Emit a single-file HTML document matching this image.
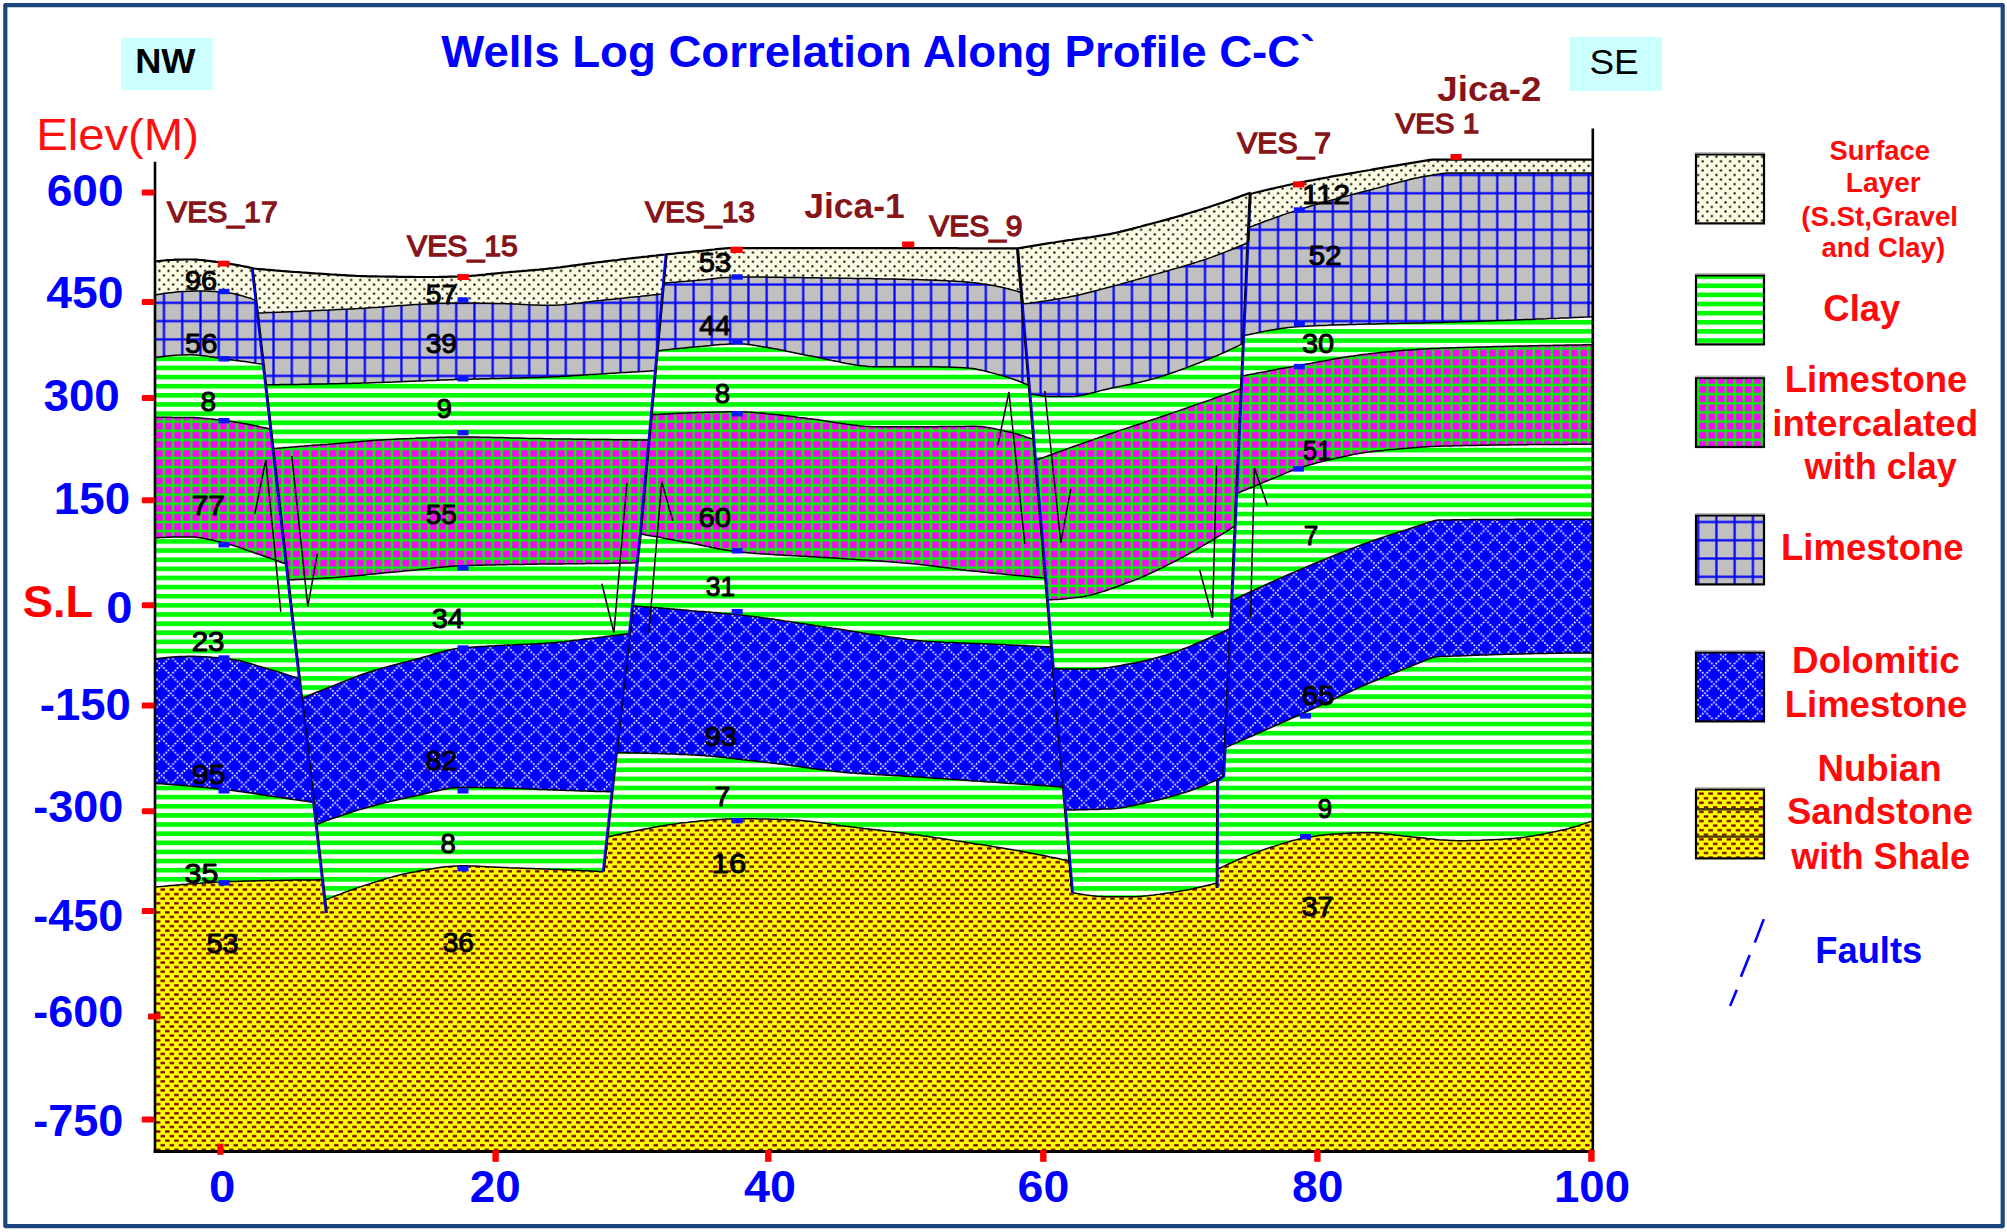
<!DOCTYPE html>
<html lang="en"><head><meta charset="utf-8"><title>Wells Log Correlation Along Profile C-C`</title>
<style>html,body{margin:0;padding:0;background:#fff}svg{display:block}text{font-family:"Liberation Sans",sans-serif}</style></head><body>
<svg width="2007" height="1232" viewBox="0 0 2007 1232">
<defs>
<pattern id="lime" patternUnits="userSpaceOnUse" x="154.838" y="184.118" width="18.264" height="18.264"><rect width="18.264" height="18.264" fill="#c0c0c0"/><rect x="8.032" y="0" width="2.2" height="18.264" fill="#0000ff"/><rect x="0" y="8.032" width="18.264" height="2.2" fill="#0000ff"/></pattern>
<pattern id="clay" patternUnits="userSpaceOnUse" x="0" y="0.336" width="9.132" height="9.132"><rect width="9.132" height="9.132" fill="#ffffff"/><rect width="9.132" height="4.666" fill="#00fa00"/></pattern>
<pattern id="inter" patternUnits="userSpaceOnUse" x="4.160" y="6.044" width="9.132" height="9.132"><rect width="9.132" height="9.132" fill="#ff00ff"/><rect x="3.341" y="0" width="2.45" height="9.132" fill="#00f600"/><rect x="0" y="3.341" width="9.132" height="2.45" fill="#00f600"/></pattern>
<pattern id="surf" patternUnits="userSpaceOnUse" x="6.443" y="8.327" width="9.132" height="9.132"><rect width="9.132" height="9.132" fill="#fbfbe3"/><circle cx="2.283" cy="2.283" r="1.1" fill="#000"/><circle cx="6.849" cy="6.849" r="1.1" fill="#000"/></pattern>
<pattern id="nub" patternUnits="userSpaceOnUse" x="0.633" y="6.021" width="9.132" height="9.132"><rect width="9.132" height="9.132" fill="#ffff00"/><rect x="0.033" y="1.133" width="4.5" height="2.3" fill="#780000"/><rect x="4.599" y="5.699" width="4.5" height="2.3" fill="#780000"/></pattern>
<pattern id="dolo" patternUnits="userSpaceOnUse" x="5.243" y="16.349" width="18.264" height="18.264"><rect width="18.264" height="18.264" fill="#0000ff"/><g fill="#ffffff"><circle cx="1.141" cy="1.141" r="0.98"/><circle cx="3.425" cy="3.425" r="0.98"/><circle cx="3.425" cy="17.122" r="0.98"/><circle cx="5.707" cy="5.707" r="0.98"/><circle cx="5.707" cy="14.839" r="0.98"/><circle cx="7.990" cy="7.990" r="0.98"/><circle cx="7.990" cy="12.556" r="0.98"/><circle cx="10.274" cy="10.274" r="0.98"/><circle cx="12.556" cy="12.556" r="0.98"/><circle cx="12.556" cy="7.990" r="0.98"/><circle cx="14.839" cy="14.839" r="0.98"/><circle cx="14.839" cy="5.707" r="0.98"/><circle cx="17.122" cy="17.122" r="0.98"/><circle cx="17.122" cy="3.425" r="0.98"/></g></pattern>
<clipPath id="clipA"><polygon points="155.0,100.0 155.0,1152.0 326.0,1152.0 326.0,913.0 252.0,269.0 252.0,100.0"/></clipPath>
<clipPath id="clipB"><polygon points="252.0,100.0 252.0,269.0 326.0,913.0 326.0,1152.0 603.0,1152.0 603.0,871.6 640.0,534.0 665.8,254.4 665.8,100.0"/></clipPath>
<clipPath id="clipC"><polygon points="665.8,100.0 665.8,254.4 640.0,534.0 603.0,871.6 603.0,1152.0 1072.8,1152.0 1072.8,892.8 1017.8,248.3 1017.8,100.0"/></clipPath>
<clipPath id="clipD"><polygon points="1017.8,100.0 1017.8,248.3 1072.8,892.8 1072.8,1152.0 1217.5,1152.0 1217.5,888.0 1218.0,781.0 1224.0,776.0 1225.5,747.7 1250.5,193.0 1250.5,100.0"/></clipPath>
<clipPath id="clipE"><polygon points="1250.5,100.0 1250.5,193.0 1225.5,747.7 1224.0,776.0 1218.0,781.0 1217.5,888.0 1217.5,1152.0 1593.0,1152.0 1593.0,100.0"/></clipPath>
<clipPath id="plot"><rect x="155.0" y="100.0" width="1438.0" height="1052.0"/></clipPath>
</defs>
<rect x="0" y="0" width="2007" height="1232" fill="#ffffff"/>
<g clip-path="url(#plot)">
<rect x="150.0" y="100.0" width="1448.0" height="1052.0" fill="url(#nub)"/>
<g clip-path="url(#clipA)">
<rect x="150.0" y="100.0" width="1448.0" height="1052.0" fill="url(#nub)"/>
<path d="M65.0 895.6L155.0 887.0L158.0 886.7L161.0 886.4L164.0 886.2L167.0 885.9L170.0 885.6L173.0 885.4L176.0 885.1L179.0 884.9L182.0 884.6L185.0 884.4L188.0 884.1L191.0 883.9L194.0 883.7L197.0 883.5L200.0 883.3L203.0 883.0L206.0 882.8L209.0 882.6L212.0 882.4L215.0 882.2L218.0 882.1L221.0 881.9L224.0 881.8L227.0 881.7L230.0 881.6L233.0 881.5L236.0 881.4L239.0 881.3L242.0 881.2L245.0 881.1L248.0 881.0L251.0 880.9L254.0 880.8L257.0 880.8L260.0 880.7L263.0 880.6L266.0 880.6L269.0 880.5L272.0 880.5L275.0 880.4L278.0 880.4L281.0 880.3L284.0 880.3L287.0 880.2L290.0 880.2L293.0 880.1L296.0 880.1L299.0 880.0L302.0 880.0L305.0 879.9L308.0 879.9L311.0 879.9L314.0 879.9L317.0 879.8L320.0 879.8L321.7 879.8L411.7 879.3L411.7 95.0L65.0 95.0Z" fill="url(#clay)"/>
<path d="M65.0 778.4L155.0 783.5L158.0 783.7L161.0 783.8L164.0 784.0L167.0 784.2L170.0 784.4L173.0 784.7L176.0 784.9L179.0 785.1L182.0 785.4L185.0 785.6L188.0 785.9L191.0 786.2L194.0 786.4L197.0 786.7L200.0 787.0L203.0 787.3L206.0 787.6L209.0 787.9L212.0 788.2L215.0 788.5L218.0 788.9L221.0 789.2L224.0 789.5L227.0 789.8L230.0 790.2L233.0 790.6L236.0 791.0L239.0 791.4L242.0 791.8L245.0 792.3L248.0 792.7L251.0 793.1L254.0 793.6L257.0 794.1L260.0 794.5L263.0 795.0L266.0 795.4L269.0 795.9L272.0 796.3L275.0 796.7L278.0 797.2L281.0 797.6L284.0 798.0L287.0 798.5L290.0 798.9L293.0 799.4L296.0 799.8L299.0 800.2L302.0 800.7L305.0 801.1L308.0 801.6L311.0 802.0L312.8 802.3L402.8 815.8L402.8 95.0L65.0 95.0Z" fill="url(#dolo)"/>
<path d="M65.0 671.6L155.0 659.0L158.0 658.6L161.0 658.2L164.0 657.8L167.0 657.5L170.0 657.2L173.0 657.0L176.0 656.8L179.0 656.6L182.0 656.5L185.0 656.4L188.0 656.3L191.0 656.3L194.0 656.3L197.0 656.4L200.0 656.5L203.0 656.7L206.0 656.8L209.0 657.0L212.0 657.3L215.0 657.5L218.0 657.8L221.0 658.1L224.0 658.4L227.0 658.7L230.0 659.0L233.0 659.4L236.0 659.9L239.0 660.5L242.0 661.2L245.0 662.0L248.0 662.9L251.0 663.8L254.0 664.7L257.0 665.6L260.0 666.5L263.0 667.4L266.0 668.3L269.0 669.1L272.0 670.0L275.0 670.9L278.0 671.8L281.0 672.7L284.0 673.7L287.0 674.6L290.0 675.6L293.0 676.6L296.0 677.6L298.8 678.5L388.8 708.6L388.8 95.0L65.0 95.0Z" fill="url(#clay)"/>
<path d="M65.0 545.1L155.0 538.0L158.0 537.8L161.0 537.6L164.0 537.4L167.0 537.3L170.0 537.2L173.0 537.1L176.0 537.1L179.0 537.0L182.0 537.0L185.0 537.0L188.0 537.0L191.0 537.0L194.0 537.1L197.0 537.4L200.0 537.8L203.0 538.3L206.0 538.8L209.0 539.5L212.0 540.1L215.0 540.8L218.0 541.6L221.0 542.3L224.0 543.0L227.0 543.7L230.0 544.6L233.0 545.5L236.0 546.4L239.0 547.4L242.0 548.4L245.0 549.5L248.0 550.6L251.0 551.6L254.0 552.7L257.0 553.7L260.0 554.7L263.0 555.7L266.0 556.8L269.0 557.8L272.0 558.9L275.0 560.0L278.0 561.1L281.0 562.2L284.0 563.3L286.0 564.0L376.0 597.3L376.0 95.0L65.0 95.0Z" fill="url(#inter)"/>
<path d="M65.0 417.3L155.0 417.3L158.0 417.3L161.0 417.3L164.0 417.3L167.0 417.3L170.0 417.3L173.0 417.4L176.0 417.4L179.0 417.4L182.0 417.4L185.0 417.4L188.0 417.5L191.0 417.5L194.0 417.6L197.0 417.7L200.0 417.9L203.0 418.2L206.0 418.4L209.0 418.8L212.0 419.1L215.0 419.4L218.0 419.8L221.0 420.1L224.0 420.5L227.0 420.9L230.0 421.3L233.0 421.7L236.0 422.2L239.0 422.6L242.0 423.2L245.0 423.7L248.0 424.3L251.0 424.9L254.0 425.5L257.0 426.1L260.0 426.8L263.0 427.4L266.0 428.1L268.0 428.6L358.0 449.9L358.0 95.0L65.0 95.0Z" fill="url(#clay)"/>
<path d="M65.0 373.9L155.0 357.8L158.0 357.3L161.0 356.8L164.0 356.4L167.0 356.0L170.0 355.7L173.0 355.4L176.0 355.2L179.0 355.1L182.0 354.9L185.0 354.9L188.0 354.8L191.0 354.8L194.0 354.9L197.0 355.1L200.0 355.4L203.0 355.7L206.0 356.1L209.0 356.6L212.0 357.0L215.0 357.5L218.0 357.9L221.0 358.4L224.0 358.8L227.0 359.2L230.0 359.6L233.0 360.0L236.0 360.4L239.0 360.8L242.0 361.2L245.0 361.6L248.0 362.1L251.0 362.5L254.0 362.9L257.0 363.4L260.0 363.8L261.0 364.0L351.0 377.7L351.0 95.0L65.0 95.0Z" fill="url(#lime)"/>
<path d="M65.0 310.8L155.0 295.0L158.0 294.5L161.0 294.0L164.0 293.5L167.0 293.1L170.0 292.7L173.0 292.4L176.0 292.1L179.0 291.8L182.0 291.6L185.0 291.4L188.0 291.3L191.0 291.2L194.0 291.1L197.0 291.0L200.0 291.0L203.0 291.0L206.0 291.1L209.0 291.2L212.0 291.4L215.0 291.6L218.0 291.8L221.0 292.0L224.0 292.3L227.0 292.6L230.0 293.1L233.0 293.6L236.0 294.2L239.0 295.0L242.0 295.8L245.0 296.7L248.0 297.6L251.0 298.6L254.0 299.6L255.0 300.0L345.0 332.0L345.0 95.0L65.0 95.0Z" fill="url(#surf)"/>
<path d="M65.0 895.6L155.0 887.0L158.0 886.7L161.0 886.4L164.0 886.2L167.0 885.9L170.0 885.6L173.0 885.4L176.0 885.1L179.0 884.9L182.0 884.6L185.0 884.4L188.0 884.1L191.0 883.9L194.0 883.7L197.0 883.5L200.0 883.3L203.0 883.0L206.0 882.8L209.0 882.6L212.0 882.4L215.0 882.2L218.0 882.1L221.0 881.9L224.0 881.8L227.0 881.7L230.0 881.6L233.0 881.5L236.0 881.4L239.0 881.3L242.0 881.2L245.0 881.1L248.0 881.0L251.0 880.9L254.0 880.8L257.0 880.8L260.0 880.7L263.0 880.6L266.0 880.6L269.0 880.5L272.0 880.5L275.0 880.4L278.0 880.4L281.0 880.3L284.0 880.3L287.0 880.2L290.0 880.2L293.0 880.1L296.0 880.1L299.0 880.0L302.0 880.0L305.0 879.9L308.0 879.9L311.0 879.9L314.0 879.9L317.0 879.8L320.0 879.8L321.7 879.8L411.7 879.3" fill="none" stroke="#000" stroke-width="1.5" stroke-linejoin="round"/>
<path d="M65.0 778.4L155.0 783.5L158.0 783.7L161.0 783.8L164.0 784.0L167.0 784.2L170.0 784.4L173.0 784.7L176.0 784.9L179.0 785.1L182.0 785.4L185.0 785.6L188.0 785.9L191.0 786.2L194.0 786.4L197.0 786.7L200.0 787.0L203.0 787.3L206.0 787.6L209.0 787.9L212.0 788.2L215.0 788.5L218.0 788.9L221.0 789.2L224.0 789.5L227.0 789.8L230.0 790.2L233.0 790.6L236.0 791.0L239.0 791.4L242.0 791.8L245.0 792.3L248.0 792.7L251.0 793.1L254.0 793.6L257.0 794.1L260.0 794.5L263.0 795.0L266.0 795.4L269.0 795.9L272.0 796.3L275.0 796.7L278.0 797.2L281.0 797.6L284.0 798.0L287.0 798.5L290.0 798.9L293.0 799.4L296.0 799.8L299.0 800.2L302.0 800.7L305.0 801.1L308.0 801.6L311.0 802.0L312.8 802.3L402.8 815.8" fill="none" stroke="#000" stroke-width="1.5" stroke-linejoin="round"/>
<path d="M65.0 671.6L155.0 659.0L158.0 658.6L161.0 658.2L164.0 657.8L167.0 657.5L170.0 657.2L173.0 657.0L176.0 656.8L179.0 656.6L182.0 656.5L185.0 656.4L188.0 656.3L191.0 656.3L194.0 656.3L197.0 656.4L200.0 656.5L203.0 656.7L206.0 656.8L209.0 657.0L212.0 657.3L215.0 657.5L218.0 657.8L221.0 658.1L224.0 658.4L227.0 658.7L230.0 659.0L233.0 659.4L236.0 659.9L239.0 660.5L242.0 661.2L245.0 662.0L248.0 662.9L251.0 663.8L254.0 664.7L257.0 665.6L260.0 666.5L263.0 667.4L266.0 668.3L269.0 669.1L272.0 670.0L275.0 670.9L278.0 671.8L281.0 672.7L284.0 673.7L287.0 674.6L290.0 675.6L293.0 676.6L296.0 677.6L298.8 678.5L388.8 708.6" fill="none" stroke="#000" stroke-width="1.5" stroke-linejoin="round"/>
<path d="M65.0 545.1L155.0 538.0L158.0 537.8L161.0 537.6L164.0 537.4L167.0 537.3L170.0 537.2L173.0 537.1L176.0 537.1L179.0 537.0L182.0 537.0L185.0 537.0L188.0 537.0L191.0 537.0L194.0 537.1L197.0 537.4L200.0 537.8L203.0 538.3L206.0 538.8L209.0 539.5L212.0 540.1L215.0 540.8L218.0 541.6L221.0 542.3L224.0 543.0L227.0 543.7L230.0 544.6L233.0 545.5L236.0 546.4L239.0 547.4L242.0 548.4L245.0 549.5L248.0 550.6L251.0 551.6L254.0 552.7L257.0 553.7L260.0 554.7L263.0 555.7L266.0 556.8L269.0 557.8L272.0 558.9L275.0 560.0L278.0 561.1L281.0 562.2L284.0 563.3L286.0 564.0L376.0 597.3" fill="none" stroke="#000" stroke-width="1.5" stroke-linejoin="round"/>
<path d="M65.0 417.3L155.0 417.3L158.0 417.3L161.0 417.3L164.0 417.3L167.0 417.3L170.0 417.3L173.0 417.4L176.0 417.4L179.0 417.4L182.0 417.4L185.0 417.4L188.0 417.5L191.0 417.5L194.0 417.6L197.0 417.7L200.0 417.9L203.0 418.2L206.0 418.4L209.0 418.8L212.0 419.1L215.0 419.4L218.0 419.8L221.0 420.1L224.0 420.5L227.0 420.9L230.0 421.3L233.0 421.7L236.0 422.2L239.0 422.6L242.0 423.2L245.0 423.7L248.0 424.3L251.0 424.9L254.0 425.5L257.0 426.1L260.0 426.8L263.0 427.4L266.0 428.1L268.0 428.6L358.0 449.9" fill="none" stroke="#000" stroke-width="1.5" stroke-linejoin="round"/>
<path d="M65.0 373.9L155.0 357.8L158.0 357.3L161.0 356.8L164.0 356.4L167.0 356.0L170.0 355.7L173.0 355.4L176.0 355.2L179.0 355.1L182.0 354.9L185.0 354.9L188.0 354.8L191.0 354.8L194.0 354.9L197.0 355.1L200.0 355.4L203.0 355.7L206.0 356.1L209.0 356.6L212.0 357.0L215.0 357.5L218.0 357.9L221.0 358.4L224.0 358.8L227.0 359.2L230.0 359.6L233.0 360.0L236.0 360.4L239.0 360.8L242.0 361.2L245.0 361.6L248.0 362.1L251.0 362.5L254.0 362.9L257.0 363.4L260.0 363.8L261.0 364.0L351.0 377.7" fill="none" stroke="#000" stroke-width="1.5" stroke-linejoin="round"/>
<path d="M65.0 310.8L155.0 295.0L158.0 294.5L161.0 294.0L164.0 293.5L167.0 293.1L170.0 292.7L173.0 292.4L176.0 292.1L179.0 291.8L182.0 291.6L185.0 291.4L188.0 291.3L191.0 291.2L194.0 291.1L197.0 291.0L200.0 291.0L203.0 291.0L206.0 291.1L209.0 291.2L212.0 291.4L215.0 291.6L218.0 291.8L221.0 292.0L224.0 292.3L227.0 292.6L230.0 293.1L233.0 293.6L236.0 294.2L239.0 295.0L242.0 295.8L245.0 296.7L248.0 297.6L251.0 298.6L254.0 299.6L255.0 300.0L345.0 332.0" fill="none" stroke="#000" stroke-width="1.5" stroke-linejoin="round"/>
</g>
<g clip-path="url(#clipB)">
<rect x="150.0" y="100.0" width="1448.0" height="1052.0" fill="url(#nub)"/>
<path d="M235.7 936.4L325.7 899.8L328.7 898.6L331.7 897.4L334.7 896.2L337.7 895.0L340.7 893.9L343.7 892.7L346.7 891.6L349.7 890.5L352.7 889.5L355.7 888.4L358.7 887.4L361.7 886.4L364.7 885.4L367.7 884.4L370.7 883.5L373.7 882.5L376.7 881.6L379.7 880.7L382.7 879.7L385.7 878.8L388.7 877.9L391.7 877.1L394.7 876.2L397.7 875.4L400.7 874.7L403.7 874.0L406.7 873.4L409.7 872.8L412.7 872.2L415.7 871.7L418.7 871.1L421.7 870.5L424.7 870.0L427.7 869.4L430.7 868.9L433.7 868.4L436.7 867.9L439.7 867.5L442.7 867.1L445.7 866.7L448.7 866.4L451.7 866.2L454.7 866.0L457.7 865.9L460.7 865.8L463.7 865.8L466.7 865.8L469.7 865.9L472.7 866.0L475.7 866.1L478.7 866.2L481.7 866.4L484.7 866.5L487.7 866.7L490.7 866.9L493.7 867.0L496.7 867.2L499.7 867.3L502.7 867.5L505.7 867.6L508.7 867.8L511.7 867.9L514.7 868.0L517.7 868.1L520.7 868.2L523.7 868.3L526.7 868.4L529.7 868.5L532.7 868.6L535.7 868.7L538.7 868.8L541.7 868.9L544.7 869.0L547.7 869.1L550.7 869.3L553.7 869.4L556.7 869.5L559.7 869.6L562.7 869.7L565.7 869.9L568.7 870.0L571.7 870.1L574.7 870.3L577.7 870.4L580.7 870.5L583.7 870.7L586.7 870.8L589.7 871.0L592.7 871.1L595.7 871.2L598.7 871.4L601.7 871.5L602.9 871.6L692.9 876.1L692.9 95.0L235.7 95.0Z" fill="url(#clay)"/>
<path d="M226.8 858.3L316.8 824.3L319.8 823.2L322.8 822.0L325.8 820.9L328.8 819.9L331.8 818.8L334.8 817.7L337.8 816.7L340.8 815.7L343.8 814.7L346.8 813.7L349.8 812.7L352.8 811.8L355.8 810.8L358.8 809.9L361.8 809.0L364.8 808.2L367.8 807.3L370.8 806.5L373.8 805.7L376.8 804.9L379.8 804.1L382.8 803.3L385.8 802.6L388.8 801.9L391.8 801.1L394.8 800.4L397.8 799.7L400.8 799.1L403.8 798.4L406.8 797.7L409.8 797.1L412.8 796.5L415.8 795.8L418.8 795.2L421.8 794.5L424.8 793.8L427.8 793.0L430.8 792.3L433.8 791.6L436.8 790.9L439.8 790.2L442.8 789.6L445.8 789.0L448.8 788.5L451.8 788.1L454.8 787.8L457.8 787.6L460.8 787.5L463.8 787.5L466.8 787.5L469.8 787.5L472.8 787.6L475.8 787.6L478.8 787.6L481.8 787.7L484.8 787.7L487.8 787.8L490.8 787.8L493.8 787.9L496.8 787.9L499.8 788.0L502.8 788.1L505.8 788.1L508.8 788.2L511.8 788.3L514.8 788.4L517.8 788.5L520.8 788.6L523.8 788.8L526.8 788.9L529.8 789.0L532.8 789.1L535.8 789.3L538.8 789.4L541.8 789.5L544.8 789.6L547.8 789.7L550.8 789.8L553.8 790.0L556.8 790.1L559.8 790.2L562.8 790.3L565.8 790.4L568.8 790.5L571.8 790.6L574.8 790.7L577.8 790.8L580.8 790.9L583.8 791.0L586.8 791.1L589.8 791.2L592.8 791.3L595.8 791.4L598.8 791.4L601.8 791.5L604.8 791.6L607.8 791.7L609.9 791.8L699.9 794.6L699.9 95.0L226.8 95.0Z" fill="url(#dolo)"/>
<path d="M212.8 734.9L302.8 697.9L305.8 696.7L308.8 695.4L311.8 694.2L314.8 693.0L317.8 691.8L320.8 690.6L323.8 689.4L326.8 688.2L329.8 687.0L332.8 685.9L335.8 684.7L338.8 683.5L341.8 682.3L344.8 681.1L347.8 679.9L350.8 678.8L353.8 677.6L356.8 676.4L359.8 675.3L362.8 674.2L365.8 673.2L368.8 672.2L371.8 671.2L374.8 670.3L377.8 669.4L380.8 668.5L383.8 667.7L386.8 666.9L389.8 666.0L392.8 665.2L395.8 664.5L398.8 663.7L401.8 662.9L404.8 662.1L407.8 661.4L410.8 660.6L413.8 659.8L416.8 659.0L419.8 658.2L422.8 657.3L425.8 656.5L428.8 655.6L431.8 654.7L434.8 653.8L437.8 653.0L440.8 652.1L443.8 651.3L446.8 650.6L449.8 649.9L452.8 649.3L455.8 648.8L458.8 648.3L461.8 648.0L464.8 647.7L467.8 647.4L470.8 647.2L473.8 647.0L476.8 646.8L479.8 646.6L482.8 646.4L485.8 646.3L488.8 646.1L491.8 645.9L494.8 645.8L497.8 645.6L500.8 645.5L503.8 645.3L506.8 645.1L509.8 645.0L512.8 644.9L515.8 644.7L518.8 644.6L521.8 644.5L524.8 644.3L527.8 644.2L530.8 644.1L533.8 643.9L536.8 643.8L539.8 643.6L542.8 643.4L545.8 643.2L548.8 643.0L551.8 642.8L554.8 642.6L557.8 642.3L560.8 642.0L563.8 641.7L566.8 641.3L569.8 641.0L572.8 640.6L575.8 640.2L578.8 639.9L581.8 639.5L584.8 639.1L587.8 638.8L590.8 638.4L593.8 638.0L596.8 637.7L599.8 637.3L602.8 637.0L605.8 636.6L608.8 636.2L611.8 635.8L614.8 635.4L617.8 635.1L620.8 634.7L623.8 634.3L625.9 634.0L715.9 622.1L715.9 95.0L212.8 95.0Z" fill="url(#clay)"/>
<path d="M199.8 583.1L289.8 579.8L292.8 579.7L295.8 579.6L298.8 579.4L301.8 579.3L304.8 579.2L307.8 579.0L310.8 578.9L313.8 578.7L316.8 578.6L319.8 578.4L322.8 578.2L325.8 578.0L328.8 577.9L331.8 577.7L334.8 577.5L337.8 577.2L340.8 577.0L343.8 576.8L346.8 576.5L349.8 576.3L352.8 576.0L355.8 575.7L358.8 575.5L361.8 575.2L364.8 574.9L367.8 574.6L370.8 574.3L373.8 574.0L376.8 573.7L379.8 573.4L382.8 573.1L385.8 572.8L388.8 572.6L391.8 572.3L394.8 572.0L397.8 571.7L400.8 571.4L403.8 571.1L406.8 570.8L409.8 570.5L412.8 570.2L415.8 569.9L418.8 569.5L421.8 569.2L424.8 568.9L427.8 568.5L430.8 568.2L433.8 567.9L436.8 567.6L439.8 567.3L442.8 567.0L445.8 566.8L448.8 566.5L451.8 566.3L454.8 566.1L457.8 566.0L460.8 565.8L463.8 565.7L466.8 565.6L469.8 565.5L472.8 565.4L475.8 565.3L478.8 565.3L481.8 565.2L484.8 565.1L487.8 565.0L490.8 565.0L493.8 564.9L496.8 564.8L499.8 564.8L502.8 564.7L505.8 564.7L508.8 564.6L511.8 564.5L514.8 564.5L517.8 564.4L520.8 564.4L523.8 564.4L526.8 564.3L529.8 564.3L532.8 564.2L535.8 564.2L538.8 564.1L541.8 564.1L544.8 564.1L547.8 564.0L550.8 564.0L553.8 563.9L556.8 563.9L559.8 563.9L562.8 563.9L565.8 563.8L568.8 563.8L571.8 563.8L574.8 563.8L577.8 563.7L580.8 563.7L583.8 563.7L586.8 563.6L589.8 563.6L592.8 563.6L595.8 563.6L598.8 563.5L601.8 563.5L604.8 563.4L607.8 563.4L610.8 563.3L613.8 563.3L616.8 563.2L619.8 563.2L622.8 563.1L625.8 563.0L628.8 563.0L631.8 562.9L634.8 562.8L635.8 562.8L725.8 560.7L725.8 95.0L199.8 95.0Z" fill="url(#inter)"/>
<path d="M184.0 455.9L274.0 448.5L277.0 448.3L280.0 448.0L283.0 447.8L286.0 447.5L289.0 447.3L292.0 447.0L295.0 446.8L298.0 446.5L301.0 446.3L304.0 446.1L307.0 445.8L310.0 445.6L313.0 445.3L316.0 445.1L319.0 444.9L322.0 444.6L325.0 444.4L328.0 444.2L331.0 443.9L334.0 443.7L337.0 443.4L340.0 443.2L343.0 442.9L346.0 442.7L349.0 442.4L352.0 442.2L355.0 441.9L358.0 441.7L361.0 441.4L364.0 441.2L367.0 441.0L370.0 440.7L373.0 440.5L376.0 440.3L379.0 440.1L382.0 439.9L385.0 439.7L388.0 439.6L391.0 439.4L394.0 439.3L397.0 439.1L400.0 439.0L403.0 438.8L406.0 438.7L409.0 438.6L412.0 438.4L415.0 438.3L418.0 438.1L421.0 438.0L424.0 437.9L427.0 437.8L430.0 437.6L433.0 437.5L436.0 437.4L439.0 437.3L442.0 437.3L445.0 437.2L448.0 437.1L451.0 437.1L454.0 437.0L457.0 437.0L460.0 437.0L463.0 437.0L466.0 437.0L469.0 437.0L472.0 437.1L475.0 437.1L478.0 437.1L481.0 437.2L484.0 437.2L487.0 437.3L490.0 437.3L493.0 437.4L496.0 437.5L499.0 437.6L502.0 437.6L505.0 437.7L508.0 437.8L511.0 437.9L514.0 438.0L517.0 438.0L520.0 438.1L523.0 438.2L526.0 438.3L529.0 438.4L532.0 438.4L535.0 438.5L538.0 438.6L541.0 438.6L544.0 438.7L547.0 438.8L550.0 438.8L553.0 438.9L556.0 438.9L559.0 439.0L562.0 439.0L565.0 439.0L568.0 439.1L571.0 439.1L574.0 439.2L577.0 439.2L580.0 439.2L583.0 439.3L586.0 439.3L589.0 439.4L592.0 439.4L595.0 439.4L598.0 439.5L601.0 439.5L604.0 439.5L607.0 439.6L610.0 439.6L613.0 439.7L616.0 439.7L619.0 439.7L622.0 439.7L625.0 439.8L628.0 439.8L631.0 439.8L634.0 439.9L637.0 439.9L640.0 439.9L643.0 440.0L646.0 440.0L647.8 440.0L737.8 440.8L737.8 95.0L184.0 95.0Z" fill="url(#clay)"/>
<path d="M176.0 385.6L266.0 384.8L269.0 384.8L272.0 384.7L275.0 384.7L278.0 384.7L281.0 384.6L284.0 384.6L287.0 384.6L290.0 384.5L293.0 384.5L296.0 384.4L299.0 384.4L302.0 384.3L305.0 384.3L308.0 384.2L311.0 384.2L314.0 384.1L317.0 384.1L320.0 384.0L323.0 384.0L326.0 383.9L329.0 383.8L332.0 383.8L335.0 383.7L338.0 383.7L341.0 383.6L344.0 383.5L347.0 383.5L350.0 383.4L353.0 383.3L356.0 383.3L359.0 383.2L362.0 383.1L365.0 383.0L368.0 382.9L371.0 382.8L374.0 382.7L377.0 382.6L380.0 382.5L383.0 382.4L386.0 382.3L389.0 382.2L392.0 382.1L395.0 381.9L398.0 381.8L401.0 381.7L404.0 381.6L407.0 381.5L410.0 381.3L413.0 381.2L416.0 381.1L419.0 381.0L422.0 380.9L425.0 380.7L428.0 380.6L431.0 380.5L434.0 380.4L437.0 380.3L440.0 380.1L443.0 380.0L446.0 379.9L449.0 379.8L452.0 379.7L455.0 379.6L458.0 379.5L461.0 379.4L464.0 379.3L467.0 379.2L470.0 379.2L473.0 379.1L476.0 379.0L479.0 378.9L482.0 378.8L485.0 378.8L488.0 378.7L491.0 378.6L494.0 378.6L497.0 378.5L500.0 378.4L503.0 378.3L506.0 378.3L509.0 378.2L512.0 378.1L515.0 378.1L518.0 378.0L521.0 377.9L524.0 377.8L527.0 377.7L530.0 377.7L533.0 377.6L536.0 377.5L539.0 377.4L542.0 377.3L545.0 377.2L548.0 377.1L551.0 376.9L554.0 376.8L557.0 376.7L560.0 376.5L563.0 376.3L566.0 376.2L569.0 376.0L572.0 375.8L575.0 375.6L578.0 375.4L581.0 375.2L584.0 375.0L587.0 374.8L590.0 374.6L593.0 374.4L596.0 374.2L599.0 374.1L602.0 373.9L605.0 373.7L608.0 373.5L611.0 373.3L614.0 373.2L617.0 373.0L620.0 372.8L623.0 372.6L626.0 372.5L629.0 372.3L632.0 372.1L635.0 371.9L638.0 371.7L641.0 371.6L644.0 371.4L647.0 371.2L650.0 371.0L653.0 370.8L653.8 370.8L743.8 365.4L743.8 95.0L176.0 95.0Z" fill="url(#lime)"/>
<path d="M169.0 316.5L259.0 313.0L262.0 312.9L265.0 312.8L268.0 312.6L271.0 312.5L274.0 312.4L277.0 312.3L280.0 312.2L283.0 312.0L286.0 311.9L289.0 311.8L292.0 311.7L295.0 311.5L298.0 311.4L301.0 311.3L304.0 311.1L307.0 311.0L310.0 310.9L313.0 310.7L316.0 310.6L319.0 310.5L322.0 310.3L325.0 310.2L328.0 310.1L331.0 309.9L334.0 309.8L337.0 309.6L340.0 309.5L343.0 309.3L346.0 309.2L349.0 309.0L352.0 308.9L355.0 308.7L358.0 308.6L361.0 308.4L364.0 308.2L367.0 308.0L370.0 307.8L373.0 307.6L376.0 307.4L379.0 307.2L382.0 306.9L385.0 306.7L388.0 306.5L391.0 306.3L394.0 306.1L397.0 305.8L400.0 305.6L403.0 305.4L406.0 305.2L409.0 305.0L412.0 304.8L415.0 304.6L418.0 304.4L421.0 304.2L424.0 304.0L427.0 303.9L430.0 303.7L433.0 303.6L436.0 303.5L439.0 303.3L442.0 303.2L445.0 303.2L448.0 303.1L451.0 303.0L454.0 303.0L457.0 303.0L460.0 303.0L463.0 303.0L466.0 303.0L469.0 303.1L472.0 303.1L475.0 303.1L478.0 303.1L481.0 303.2L484.0 303.2L487.0 303.3L490.0 303.3L493.0 303.4L496.0 303.4L499.0 303.5L502.0 303.5L505.0 303.6L508.0 303.7L511.0 303.8L514.0 304.0L517.0 304.1L520.0 304.3L523.0 304.4L526.0 304.6L529.0 304.7L532.0 304.9L535.0 305.0L538.0 305.1L541.0 305.2L544.0 305.2L547.0 305.3L550.0 305.3L553.0 305.3L556.0 305.2L559.0 305.0L562.0 304.8L565.0 304.5L568.0 304.3L571.0 304.0L574.0 303.6L577.0 303.3L580.0 302.9L583.0 302.5L586.0 302.1L589.0 301.8L592.0 301.4L595.0 301.0L598.0 300.7L601.0 300.4L604.0 300.1L607.0 299.8L610.0 299.5L613.0 299.2L616.0 298.9L619.0 298.6L622.0 298.3L625.0 298.0L628.0 297.6L631.0 297.3L634.0 297.0L637.0 296.7L640.0 296.4L643.0 296.0L646.0 295.7L649.0 295.4L652.0 295.1L655.0 294.7L658.0 294.4L661.0 294.1L661.8 294.0L751.8 284.0L751.8 95.0L169.0 95.0Z" fill="url(#surf)"/>
<path d="M235.7 936.4L325.7 899.8L328.7 898.6L331.7 897.4L334.7 896.2L337.7 895.0L340.7 893.9L343.7 892.7L346.7 891.6L349.7 890.5L352.7 889.5L355.7 888.4L358.7 887.4L361.7 886.4L364.7 885.4L367.7 884.4L370.7 883.5L373.7 882.5L376.7 881.6L379.7 880.7L382.7 879.7L385.7 878.8L388.7 877.9L391.7 877.1L394.7 876.2L397.7 875.4L400.7 874.7L403.7 874.0L406.7 873.4L409.7 872.8L412.7 872.2L415.7 871.7L418.7 871.1L421.7 870.5L424.7 870.0L427.7 869.4L430.7 868.9L433.7 868.4L436.7 867.9L439.7 867.5L442.7 867.1L445.7 866.7L448.7 866.4L451.7 866.2L454.7 866.0L457.7 865.9L460.7 865.8L463.7 865.8L466.7 865.8L469.7 865.9L472.7 866.0L475.7 866.1L478.7 866.2L481.7 866.4L484.7 866.5L487.7 866.7L490.7 866.9L493.7 867.0L496.7 867.2L499.7 867.3L502.7 867.5L505.7 867.6L508.7 867.8L511.7 867.9L514.7 868.0L517.7 868.1L520.7 868.2L523.7 868.3L526.7 868.4L529.7 868.5L532.7 868.6L535.7 868.7L538.7 868.8L541.7 868.9L544.7 869.0L547.7 869.1L550.7 869.3L553.7 869.4L556.7 869.5L559.7 869.6L562.7 869.7L565.7 869.9L568.7 870.0L571.7 870.1L574.7 870.3L577.7 870.4L580.7 870.5L583.7 870.7L586.7 870.8L589.7 871.0L592.7 871.1L595.7 871.2L598.7 871.4L601.7 871.5L602.9 871.6L692.9 876.1" fill="none" stroke="#000" stroke-width="1.5" stroke-linejoin="round"/>
<path d="M226.8 858.3L316.8 824.3L319.8 823.2L322.8 822.0L325.8 820.9L328.8 819.9L331.8 818.8L334.8 817.7L337.8 816.7L340.8 815.7L343.8 814.7L346.8 813.7L349.8 812.7L352.8 811.8L355.8 810.8L358.8 809.9L361.8 809.0L364.8 808.2L367.8 807.3L370.8 806.5L373.8 805.7L376.8 804.9L379.8 804.1L382.8 803.3L385.8 802.6L388.8 801.9L391.8 801.1L394.8 800.4L397.8 799.7L400.8 799.1L403.8 798.4L406.8 797.7L409.8 797.1L412.8 796.5L415.8 795.8L418.8 795.2L421.8 794.5L424.8 793.8L427.8 793.0L430.8 792.3L433.8 791.6L436.8 790.9L439.8 790.2L442.8 789.6L445.8 789.0L448.8 788.5L451.8 788.1L454.8 787.8L457.8 787.6L460.8 787.5L463.8 787.5L466.8 787.5L469.8 787.5L472.8 787.6L475.8 787.6L478.8 787.6L481.8 787.7L484.8 787.7L487.8 787.8L490.8 787.8L493.8 787.9L496.8 787.9L499.8 788.0L502.8 788.1L505.8 788.1L508.8 788.2L511.8 788.3L514.8 788.4L517.8 788.5L520.8 788.6L523.8 788.8L526.8 788.9L529.8 789.0L532.8 789.1L535.8 789.3L538.8 789.4L541.8 789.5L544.8 789.6L547.8 789.7L550.8 789.8L553.8 790.0L556.8 790.1L559.8 790.2L562.8 790.3L565.8 790.4L568.8 790.5L571.8 790.6L574.8 790.7L577.8 790.8L580.8 790.9L583.8 791.0L586.8 791.1L589.8 791.2L592.8 791.3L595.8 791.4L598.8 791.4L601.8 791.5L604.8 791.6L607.8 791.7L609.9 791.8L699.9 794.6" fill="none" stroke="#000" stroke-width="1.5" stroke-linejoin="round"/>
<path d="M212.8 734.9L302.8 697.9L305.8 696.7L308.8 695.4L311.8 694.2L314.8 693.0L317.8 691.8L320.8 690.6L323.8 689.4L326.8 688.2L329.8 687.0L332.8 685.9L335.8 684.7L338.8 683.5L341.8 682.3L344.8 681.1L347.8 679.9L350.8 678.8L353.8 677.6L356.8 676.4L359.8 675.3L362.8 674.2L365.8 673.2L368.8 672.2L371.8 671.2L374.8 670.3L377.8 669.4L380.8 668.5L383.8 667.7L386.8 666.9L389.8 666.0L392.8 665.2L395.8 664.5L398.8 663.7L401.8 662.9L404.8 662.1L407.8 661.4L410.8 660.6L413.8 659.8L416.8 659.0L419.8 658.2L422.8 657.3L425.8 656.5L428.8 655.6L431.8 654.7L434.8 653.8L437.8 653.0L440.8 652.1L443.8 651.3L446.8 650.6L449.8 649.9L452.8 649.3L455.8 648.8L458.8 648.3L461.8 648.0L464.8 647.7L467.8 647.4L470.8 647.2L473.8 647.0L476.8 646.8L479.8 646.6L482.8 646.4L485.8 646.3L488.8 646.1L491.8 645.9L494.8 645.8L497.8 645.6L500.8 645.5L503.8 645.3L506.8 645.1L509.8 645.0L512.8 644.9L515.8 644.7L518.8 644.6L521.8 644.5L524.8 644.3L527.8 644.2L530.8 644.1L533.8 643.9L536.8 643.8L539.8 643.6L542.8 643.4L545.8 643.2L548.8 643.0L551.8 642.8L554.8 642.6L557.8 642.3L560.8 642.0L563.8 641.7L566.8 641.3L569.8 641.0L572.8 640.6L575.8 640.2L578.8 639.9L581.8 639.5L584.8 639.1L587.8 638.8L590.8 638.4L593.8 638.0L596.8 637.7L599.8 637.3L602.8 637.0L605.8 636.6L608.8 636.2L611.8 635.8L614.8 635.4L617.8 635.1L620.8 634.7L623.8 634.3L625.9 634.0L715.9 622.1" fill="none" stroke="#000" stroke-width="1.5" stroke-linejoin="round"/>
<path d="M199.8 583.1L289.8 579.8L292.8 579.7L295.8 579.6L298.8 579.4L301.8 579.3L304.8 579.2L307.8 579.0L310.8 578.9L313.8 578.7L316.8 578.6L319.8 578.4L322.8 578.2L325.8 578.0L328.8 577.9L331.8 577.7L334.8 577.5L337.8 577.2L340.8 577.0L343.8 576.8L346.8 576.5L349.8 576.3L352.8 576.0L355.8 575.7L358.8 575.5L361.8 575.2L364.8 574.9L367.8 574.6L370.8 574.3L373.8 574.0L376.8 573.7L379.8 573.4L382.8 573.1L385.8 572.8L388.8 572.6L391.8 572.3L394.8 572.0L397.8 571.7L400.8 571.4L403.8 571.1L406.8 570.8L409.8 570.5L412.8 570.2L415.8 569.9L418.8 569.5L421.8 569.2L424.8 568.9L427.8 568.5L430.8 568.2L433.8 567.9L436.8 567.6L439.8 567.3L442.8 567.0L445.8 566.8L448.8 566.5L451.8 566.3L454.8 566.1L457.8 566.0L460.8 565.8L463.8 565.7L466.8 565.6L469.8 565.5L472.8 565.4L475.8 565.3L478.8 565.3L481.8 565.2L484.8 565.1L487.8 565.0L490.8 565.0L493.8 564.9L496.8 564.8L499.8 564.8L502.8 564.7L505.8 564.7L508.8 564.6L511.8 564.5L514.8 564.5L517.8 564.4L520.8 564.4L523.8 564.4L526.8 564.3L529.8 564.3L532.8 564.2L535.8 564.2L538.8 564.1L541.8 564.1L544.8 564.1L547.8 564.0L550.8 564.0L553.8 563.9L556.8 563.9L559.8 563.9L562.8 563.9L565.8 563.8L568.8 563.8L571.8 563.8L574.8 563.8L577.8 563.7L580.8 563.7L583.8 563.7L586.8 563.6L589.8 563.6L592.8 563.6L595.8 563.6L598.8 563.5L601.8 563.5L604.8 563.4L607.8 563.4L610.8 563.3L613.8 563.3L616.8 563.2L619.8 563.2L622.8 563.1L625.8 563.0L628.8 563.0L631.8 562.9L634.8 562.8L635.8 562.8L725.8 560.7" fill="none" stroke="#000" stroke-width="1.5" stroke-linejoin="round"/>
<path d="M184.0 455.9L274.0 448.5L277.0 448.3L280.0 448.0L283.0 447.8L286.0 447.5L289.0 447.3L292.0 447.0L295.0 446.8L298.0 446.5L301.0 446.3L304.0 446.1L307.0 445.8L310.0 445.6L313.0 445.3L316.0 445.1L319.0 444.9L322.0 444.6L325.0 444.4L328.0 444.2L331.0 443.9L334.0 443.7L337.0 443.4L340.0 443.2L343.0 442.9L346.0 442.7L349.0 442.4L352.0 442.2L355.0 441.9L358.0 441.7L361.0 441.4L364.0 441.2L367.0 441.0L370.0 440.7L373.0 440.5L376.0 440.3L379.0 440.1L382.0 439.9L385.0 439.7L388.0 439.6L391.0 439.4L394.0 439.3L397.0 439.1L400.0 439.0L403.0 438.8L406.0 438.7L409.0 438.6L412.0 438.4L415.0 438.3L418.0 438.1L421.0 438.0L424.0 437.9L427.0 437.8L430.0 437.6L433.0 437.5L436.0 437.4L439.0 437.3L442.0 437.3L445.0 437.2L448.0 437.1L451.0 437.1L454.0 437.0L457.0 437.0L460.0 437.0L463.0 437.0L466.0 437.0L469.0 437.0L472.0 437.1L475.0 437.1L478.0 437.1L481.0 437.2L484.0 437.2L487.0 437.3L490.0 437.3L493.0 437.4L496.0 437.5L499.0 437.6L502.0 437.6L505.0 437.7L508.0 437.8L511.0 437.9L514.0 438.0L517.0 438.0L520.0 438.1L523.0 438.2L526.0 438.3L529.0 438.4L532.0 438.4L535.0 438.5L538.0 438.6L541.0 438.6L544.0 438.7L547.0 438.8L550.0 438.8L553.0 438.9L556.0 438.9L559.0 439.0L562.0 439.0L565.0 439.0L568.0 439.1L571.0 439.1L574.0 439.2L577.0 439.2L580.0 439.2L583.0 439.3L586.0 439.3L589.0 439.4L592.0 439.4L595.0 439.4L598.0 439.5L601.0 439.5L604.0 439.5L607.0 439.6L610.0 439.6L613.0 439.7L616.0 439.7L619.0 439.7L622.0 439.7L625.0 439.8L628.0 439.8L631.0 439.8L634.0 439.9L637.0 439.9L640.0 439.9L643.0 440.0L646.0 440.0L647.8 440.0L737.8 440.8" fill="none" stroke="#000" stroke-width="1.5" stroke-linejoin="round"/>
<path d="M176.0 385.6L266.0 384.8L269.0 384.8L272.0 384.7L275.0 384.7L278.0 384.7L281.0 384.6L284.0 384.6L287.0 384.6L290.0 384.5L293.0 384.5L296.0 384.4L299.0 384.4L302.0 384.3L305.0 384.3L308.0 384.2L311.0 384.2L314.0 384.1L317.0 384.1L320.0 384.0L323.0 384.0L326.0 383.9L329.0 383.8L332.0 383.8L335.0 383.7L338.0 383.7L341.0 383.6L344.0 383.5L347.0 383.5L350.0 383.4L353.0 383.3L356.0 383.3L359.0 383.2L362.0 383.1L365.0 383.0L368.0 382.9L371.0 382.8L374.0 382.7L377.0 382.6L380.0 382.5L383.0 382.4L386.0 382.3L389.0 382.2L392.0 382.1L395.0 381.9L398.0 381.8L401.0 381.7L404.0 381.6L407.0 381.5L410.0 381.3L413.0 381.2L416.0 381.1L419.0 381.0L422.0 380.9L425.0 380.7L428.0 380.6L431.0 380.5L434.0 380.4L437.0 380.3L440.0 380.1L443.0 380.0L446.0 379.9L449.0 379.8L452.0 379.7L455.0 379.6L458.0 379.5L461.0 379.4L464.0 379.3L467.0 379.2L470.0 379.2L473.0 379.1L476.0 379.0L479.0 378.9L482.0 378.8L485.0 378.8L488.0 378.7L491.0 378.6L494.0 378.6L497.0 378.5L500.0 378.4L503.0 378.3L506.0 378.3L509.0 378.2L512.0 378.1L515.0 378.1L518.0 378.0L521.0 377.9L524.0 377.8L527.0 377.7L530.0 377.7L533.0 377.6L536.0 377.5L539.0 377.4L542.0 377.3L545.0 377.2L548.0 377.1L551.0 376.9L554.0 376.8L557.0 376.7L560.0 376.5L563.0 376.3L566.0 376.2L569.0 376.0L572.0 375.8L575.0 375.6L578.0 375.4L581.0 375.2L584.0 375.0L587.0 374.8L590.0 374.6L593.0 374.4L596.0 374.2L599.0 374.1L602.0 373.9L605.0 373.7L608.0 373.5L611.0 373.3L614.0 373.2L617.0 373.0L620.0 372.8L623.0 372.6L626.0 372.5L629.0 372.3L632.0 372.1L635.0 371.9L638.0 371.7L641.0 371.6L644.0 371.4L647.0 371.2L650.0 371.0L653.0 370.8L653.8 370.8L743.8 365.4" fill="none" stroke="#000" stroke-width="1.5" stroke-linejoin="round"/>
<path d="M169.0 316.5L259.0 313.0L262.0 312.9L265.0 312.8L268.0 312.6L271.0 312.5L274.0 312.4L277.0 312.3L280.0 312.2L283.0 312.0L286.0 311.9L289.0 311.8L292.0 311.7L295.0 311.5L298.0 311.4L301.0 311.3L304.0 311.1L307.0 311.0L310.0 310.9L313.0 310.7L316.0 310.6L319.0 310.5L322.0 310.3L325.0 310.2L328.0 310.1L331.0 309.9L334.0 309.8L337.0 309.6L340.0 309.5L343.0 309.3L346.0 309.2L349.0 309.0L352.0 308.9L355.0 308.7L358.0 308.6L361.0 308.4L364.0 308.2L367.0 308.0L370.0 307.8L373.0 307.6L376.0 307.4L379.0 307.2L382.0 306.9L385.0 306.7L388.0 306.5L391.0 306.3L394.0 306.1L397.0 305.8L400.0 305.6L403.0 305.4L406.0 305.2L409.0 305.0L412.0 304.8L415.0 304.6L418.0 304.4L421.0 304.2L424.0 304.0L427.0 303.9L430.0 303.7L433.0 303.6L436.0 303.5L439.0 303.3L442.0 303.2L445.0 303.2L448.0 303.1L451.0 303.0L454.0 303.0L457.0 303.0L460.0 303.0L463.0 303.0L466.0 303.0L469.0 303.1L472.0 303.1L475.0 303.1L478.0 303.1L481.0 303.2L484.0 303.2L487.0 303.3L490.0 303.3L493.0 303.4L496.0 303.4L499.0 303.5L502.0 303.5L505.0 303.6L508.0 303.7L511.0 303.8L514.0 304.0L517.0 304.1L520.0 304.3L523.0 304.4L526.0 304.6L529.0 304.7L532.0 304.9L535.0 305.0L538.0 305.1L541.0 305.2L544.0 305.2L547.0 305.3L550.0 305.3L553.0 305.3L556.0 305.2L559.0 305.0L562.0 304.8L565.0 304.5L568.0 304.3L571.0 304.0L574.0 303.6L577.0 303.3L580.0 302.9L583.0 302.5L586.0 302.1L589.0 301.8L592.0 301.4L595.0 301.0L598.0 300.7L601.0 300.4L604.0 300.1L607.0 299.8L610.0 299.5L613.0 299.2L616.0 298.9L619.0 298.6L622.0 298.3L625.0 298.0L628.0 297.6L631.0 297.3L634.0 297.0L637.0 296.7L640.0 296.4L643.0 296.0L646.0 295.7L649.0 295.4L652.0 295.1L655.0 294.7L658.0 294.4L661.0 294.1L661.8 294.0L751.8 284.0" fill="none" stroke="#000" stroke-width="1.5" stroke-linejoin="round"/>
</g>
<g clip-path="url(#clipC)">
<rect x="150.0" y="100.0" width="1448.0" height="1052.0" fill="url(#nub)"/>
<path d="M518.9 857.7L608.9 836.7L611.9 836.0L614.9 835.3L617.9 834.6L620.9 834.0L623.9 833.3L626.9 832.7L629.9 832.0L632.9 831.4L635.9 830.8L638.9 830.2L641.9 829.6L644.9 829.0L647.9 828.5L650.9 827.9L653.9 827.3L656.9 826.8L659.9 826.3L662.9 825.8L665.9 825.3L668.9 824.8L671.9 824.4L674.9 824.0L677.9 823.5L680.9 823.1L683.9 822.7L686.9 822.4L689.9 822.0L692.9 821.7L695.9 821.4L698.9 821.1L701.9 820.8L704.9 820.6L707.9 820.3L710.9 820.1L713.9 819.8L716.9 819.6L719.9 819.4L722.9 819.2L725.9 819.0L728.9 818.9L731.9 818.8L734.9 818.7L737.9 818.7L740.9 818.7L743.9 818.7L746.9 818.7L749.9 818.8L752.9 818.8L755.9 818.8L758.9 818.9L761.9 819.0L764.9 819.0L767.9 819.1L770.9 819.2L773.9 819.2L776.9 819.3L779.9 819.4L782.9 819.5L785.9 819.6L788.9 819.7L791.9 819.8L794.9 819.9L797.9 820.1L800.9 820.4L803.9 820.7L806.9 821.0L809.9 821.3L812.9 821.7L815.9 822.1L818.9 822.5L821.9 822.9L824.9 823.3L827.9 823.7L830.9 824.2L833.9 824.6L836.9 825.0L839.9 825.5L842.9 825.9L845.9 826.3L848.9 826.6L851.9 827.0L854.9 827.3L857.9 827.7L860.9 828.0L863.9 828.4L866.9 828.7L869.9 829.1L872.9 829.4L875.9 829.8L878.9 830.1L881.9 830.5L884.9 830.9L887.9 831.2L890.9 831.6L893.9 831.9L896.9 832.3L899.9 832.7L902.9 833.1L905.9 833.5L908.9 833.9L911.9 834.3L914.9 834.7L917.9 835.1L920.9 835.5L923.9 835.9L926.9 836.3L929.9 836.8L932.9 837.2L935.9 837.7L938.9 838.1L941.9 838.6L944.9 839.0L947.9 839.5L950.9 839.9L953.9 840.4L956.9 840.9L959.9 841.3L962.9 841.8L965.9 842.3L968.9 842.7L971.9 843.2L974.9 843.7L977.9 844.2L980.9 844.6L983.9 845.1L986.9 845.6L989.9 846.1L992.9 846.6L995.9 847.0L998.9 847.5L1001.9 848.0L1004.9 848.5L1007.9 849.0L1010.9 849.5L1013.9 850.1L1016.9 850.6L1019.9 851.1L1022.9 851.6L1025.9 852.2L1028.9 852.7L1031.9 853.3L1034.9 853.9L1037.9 854.4L1040.9 855.0L1043.9 855.6L1046.9 856.2L1049.9 856.9L1052.9 857.5L1055.9 858.1L1058.9 858.7L1061.9 859.4L1064.9 860.0L1067.9 860.7L1068.8 860.9L1158.8 880.7L1158.8 95.0L518.9 95.0Z" fill="url(#clay)"/>
<path d="M526.9 752.7L616.9 752.8L619.9 752.8L622.9 752.8L625.9 752.8L628.9 752.9L631.9 752.9L634.9 753.0L637.9 753.0L640.9 753.1L643.9 753.2L646.9 753.2L649.9 753.3L652.9 753.4L655.9 753.5L658.9 753.6L661.9 753.7L664.9 753.8L667.9 753.9L670.9 754.0L673.9 754.1L676.9 754.3L679.9 754.4L682.9 754.5L685.9 754.6L688.9 754.8L691.9 754.9L694.9 755.1L697.9 755.2L700.9 755.4L703.9 755.6L706.9 755.9L709.9 756.1L712.9 756.4L715.9 756.7L718.9 757.0L721.9 757.3L724.9 757.6L727.9 757.9L730.9 758.3L733.9 758.6L736.9 758.9L739.9 759.3L742.9 759.7L745.9 760.0L748.9 760.4L751.9 760.7L754.9 761.1L757.9 761.4L760.9 761.8L763.9 762.2L766.9 762.5L769.9 762.8L772.9 763.2L775.9 763.5L778.9 763.9L781.9 764.3L784.9 764.7L787.9 765.1L790.9 765.5L793.9 765.9L796.9 766.3L799.9 766.7L802.9 767.2L805.9 767.6L808.9 768.0L811.9 768.4L814.9 768.8L817.9 769.3L820.9 769.7L823.9 770.0L826.9 770.4L829.9 770.8L832.9 771.1L835.9 771.5L838.9 771.8L841.9 772.1L844.9 772.4L847.9 772.7L850.9 772.9L853.9 773.1L856.9 773.4L859.9 773.6L862.9 773.8L865.9 774.0L868.9 774.1L871.9 774.3L874.9 774.5L877.9 774.7L880.9 774.8L883.9 775.0L886.9 775.2L889.9 775.3L892.9 775.5L895.9 775.7L898.9 775.8L901.9 776.0L904.9 776.2L907.9 776.4L910.9 776.6L913.9 776.8L916.9 777.0L919.9 777.1L922.9 777.3L925.9 777.6L928.9 777.8L931.9 778.0L934.9 778.2L937.9 778.4L940.9 778.6L943.9 778.8L946.9 779.0L949.9 779.2L952.9 779.4L955.9 779.6L958.9 779.8L961.9 780.0L964.9 780.3L967.9 780.5L970.9 780.7L973.9 780.9L976.9 781.1L979.9 781.3L982.9 781.5L985.9 781.7L988.9 781.9L991.9 782.1L994.9 782.3L997.9 782.5L1000.9 782.8L1003.9 783.0L1006.9 783.2L1009.9 783.4L1012.9 783.6L1015.9 783.8L1018.9 784.0L1021.9 784.2L1024.9 784.4L1027.9 784.6L1030.9 784.8L1033.9 785.0L1036.9 785.2L1039.9 785.4L1042.9 785.6L1045.9 785.8L1048.9 786.0L1051.9 786.3L1054.9 786.5L1057.9 786.7L1060.9 786.9L1062.8 787.0L1152.8 793.2L1152.8 95.0L526.9 95.0Z" fill="url(#dolo)"/>
<path d="M541.8 598.5L631.8 605.7L634.8 605.9L637.8 606.2L640.8 606.4L643.8 606.7L646.8 606.9L649.8 607.1L652.8 607.4L655.8 607.6L658.8 607.9L661.8 608.1L664.8 608.4L667.8 608.6L670.8 608.9L673.8 609.1L676.8 609.4L679.8 609.6L682.8 609.9L685.8 610.1L688.8 610.4L691.8 610.7L694.8 610.9L697.8 611.2L700.8 611.4L703.8 611.6L706.8 611.9L709.8 612.1L712.8 612.4L715.8 612.6L718.8 612.9L721.8 613.2L724.8 613.4L727.8 613.7L730.8 614.0L733.8 614.3L736.8 614.6L739.8 614.9L742.8 615.3L745.8 615.6L748.8 616.0L751.8 616.3L754.8 616.7L757.8 617.1L760.8 617.5L763.8 617.9L766.8 618.3L769.8 618.7L772.8 619.1L775.8 619.6L778.8 620.0L781.8 620.4L784.8 620.9L787.8 621.3L790.8 621.8L793.8 622.2L796.8 622.7L799.8 623.2L802.8 623.6L805.8 624.1L808.8 624.5L811.8 625.0L814.8 625.5L817.8 625.9L820.8 626.4L823.8 626.8L826.8 627.3L829.8 627.7L832.8 628.2L835.8 628.6L838.8 629.1L841.8 629.6L844.8 630.1L847.8 630.5L850.8 631.0L853.8 631.5L856.8 632.0L859.8 632.5L862.8 633.0L865.8 633.4L868.8 633.9L871.8 634.3L874.8 634.8L877.8 635.2L880.8 635.6L883.8 636.0L886.8 636.4L889.8 636.9L892.8 637.3L895.8 637.7L898.8 638.1L901.8 638.6L904.8 639.0L907.8 639.4L910.8 639.7L913.8 640.1L916.8 640.4L919.8 640.7L922.8 641.0L925.8 641.2L928.8 641.5L931.8 641.6L934.8 641.8L937.8 642.0L940.8 642.1L943.8 642.3L946.8 642.4L949.8 642.5L952.8 642.6L955.8 642.7L958.8 642.9L961.8 643.0L964.8 643.1L967.8 643.2L970.8 643.3L973.8 643.4L976.8 643.5L979.8 643.6L982.8 643.7L985.8 643.8L988.8 644.0L991.8 644.1L994.8 644.2L997.8 644.4L1000.8 644.5L1003.8 644.6L1006.8 644.8L1009.8 644.9L1012.8 645.1L1015.8 645.2L1018.8 645.3L1021.8 645.5L1024.8 645.6L1027.8 645.8L1030.8 645.9L1033.8 646.1L1036.8 646.2L1039.8 646.4L1042.8 646.5L1045.8 646.7L1048.8 646.8L1049.8 646.9L1139.8 651.6L1139.8 95.0L541.8 95.0Z" fill="url(#clay)"/>
<path d="M549.8 517.4L639.8 533.8L642.8 534.3L645.8 534.9L648.8 535.4L651.8 536.0L654.8 536.5L657.8 537.1L660.8 537.6L663.8 538.2L666.8 538.7L669.8 539.3L672.8 539.8L675.8 540.4L678.8 540.9L681.8 541.5L684.8 542.0L687.8 542.6L690.8 543.1L693.8 543.7L696.8 544.3L699.8 544.9L702.8 545.6L705.8 546.2L708.8 546.8L711.8 547.5L714.8 548.1L717.8 548.7L720.8 549.3L723.8 549.8L726.8 550.3L729.8 550.8L732.8 551.2L735.8 551.6L738.8 551.9L741.8 552.2L744.8 552.5L747.8 552.7L750.8 553.0L753.8 553.2L756.8 553.5L759.8 553.7L762.8 553.9L765.8 554.1L768.8 554.3L771.8 554.5L774.8 554.7L777.8 554.9L780.8 555.0L783.8 555.2L786.8 555.4L789.8 555.5L792.8 555.7L795.8 555.8L798.8 556.0L801.8 556.2L804.8 556.3L807.8 556.5L810.8 556.7L813.8 556.8L816.8 557.0L819.8 557.2L822.8 557.4L825.8 557.5L828.8 557.7L831.8 557.9L834.8 558.1L837.8 558.3L840.8 558.5L843.8 558.7L846.8 558.9L849.8 559.1L852.8 559.3L855.8 559.5L858.8 559.7L861.8 559.9L864.8 560.1L867.8 560.3L870.8 560.5L873.8 560.7L876.8 560.9L879.8 561.1L882.8 561.3L885.8 561.5L888.8 561.8L891.8 562.0L894.8 562.2L897.8 562.5L900.8 562.7L903.8 563.0L906.8 563.2L909.8 563.5L912.8 563.8L915.8 564.1L918.8 564.4L921.8 564.7L924.8 565.1L927.8 565.4L930.8 565.8L933.8 566.2L936.8 566.6L939.8 567.0L942.8 567.3L945.8 567.7L948.8 568.1L951.8 568.5L954.8 568.9L957.8 569.3L960.8 569.7L963.8 570.0L966.8 570.4L969.8 570.7L972.8 571.0L975.8 571.3L978.8 571.6L981.8 572.0L984.8 572.3L987.8 572.6L990.8 572.9L993.8 573.2L996.8 573.5L999.8 573.8L1002.8 574.1L1005.8 574.4L1008.8 574.7L1011.8 575.0L1014.8 575.2L1017.8 575.5L1020.8 575.8L1023.8 576.1L1026.8 576.4L1029.8 576.6L1032.8 576.9L1035.8 577.2L1038.8 577.4L1041.8 577.7L1044.8 577.9L1045.8 578.0L1135.8 585.5L1135.8 95.0L549.8 95.0Z" fill="url(#inter)"/>
<path d="M561.8 420.0L651.8 414.7L654.8 414.5L657.8 414.4L660.8 414.2L663.8 414.0L666.8 413.9L669.8 413.7L672.8 413.6L675.8 413.4L678.8 413.3L681.8 413.2L684.8 413.0L687.8 412.9L690.8 412.8L693.8 412.7L696.8 412.6L699.8 412.5L702.8 412.4L705.8 412.3L708.8 412.2L711.8 412.2L714.8 412.1L717.8 412.0L720.8 411.9L723.8 411.9L726.8 411.8L729.8 411.8L732.8 411.7L735.8 411.7L738.8 411.7L741.8 411.8L744.8 411.9L747.8 412.0L750.8 412.2L753.8 412.5L756.8 412.8L759.8 413.0L762.8 413.3L765.8 413.6L768.8 413.9L771.8 414.2L774.8 414.5L777.8 414.8L780.8 415.1L783.8 415.5L786.8 415.8L789.8 416.2L792.8 416.6L795.8 417.0L798.8 417.4L801.8 417.7L804.8 418.1L807.8 418.5L810.8 418.8L813.8 419.2L816.8 419.6L819.8 420.1L822.8 420.5L825.8 421.0L828.8 421.4L831.8 421.9L834.8 422.4L837.8 422.8L840.8 423.3L843.8 423.7L846.8 424.2L849.8 424.6L852.8 425.0L855.8 425.3L858.8 425.7L861.8 425.9L864.8 426.2L867.8 426.4L870.8 426.6L873.8 426.7L876.8 426.7L879.8 426.7L882.8 426.7L885.8 426.7L888.8 426.7L891.8 426.7L894.8 426.7L897.8 426.7L900.8 426.7L903.8 426.7L906.8 426.7L909.8 426.7L912.8 426.7L915.8 426.7L918.8 426.7L921.8 426.7L924.8 426.7L927.8 426.7L930.8 426.7L933.8 426.7L936.8 426.7L939.8 426.6L942.8 426.6L945.8 426.6L948.8 426.5L951.8 426.5L954.8 426.5L957.8 426.4L960.8 426.4L963.8 426.4L966.8 426.3L969.8 426.3L972.8 426.3L975.8 426.3L978.8 426.4L981.8 426.6L984.8 427.0L987.8 427.4L990.8 428.0L993.8 428.6L996.8 429.2L999.8 429.9L1002.8 430.5L1005.8 431.2L1008.8 431.9L1011.8 432.6L1014.8 433.4L1017.8 434.3L1020.8 435.2L1023.8 436.1L1026.8 437.2L1029.8 438.2L1031.8 438.9L1121.8 470.9L1121.8 95.0L561.8 95.0Z" fill="url(#clay)"/>
<path d="M567.8 361.3L657.8 350.8L660.8 350.4L663.8 350.1L666.8 349.8L669.8 349.4L672.8 349.1L675.8 348.8L678.8 348.5L681.8 348.2L684.8 347.9L687.8 347.6L690.8 347.3L693.8 347.0L696.8 346.8L699.8 346.5L702.8 346.3L705.8 346.0L708.8 345.7L711.8 345.4L714.8 345.1L717.8 344.8L720.8 344.6L723.8 344.4L726.8 344.2L729.8 344.0L732.8 343.9L735.8 343.8L738.8 343.8L741.8 343.9L744.8 344.1L747.8 344.4L750.8 344.8L753.8 345.3L756.8 345.8L759.8 346.3L762.8 346.8L765.8 347.3L768.8 347.8L771.8 348.3L774.8 348.8L777.8 349.3L780.8 349.9L783.8 350.5L786.8 351.2L789.8 351.8L792.8 352.4L795.8 353.1L798.8 353.7L801.8 354.3L804.8 354.9L807.8 355.5L810.8 356.0L813.8 356.6L816.8 357.2L819.8 357.8L822.8 358.4L825.8 359.1L828.8 359.7L831.8 360.4L834.8 361.0L837.8 361.6L840.8 362.3L843.8 362.9L846.8 363.5L849.8 364.0L852.8 364.5L855.8 365.0L858.8 365.4L861.8 365.8L864.8 366.1L867.8 366.4L870.8 366.6L873.8 366.7L876.8 366.8L879.8 366.8L882.8 366.8L885.8 366.8L888.8 366.8L891.8 366.8L894.8 366.8L897.8 366.8L900.8 366.8L903.8 366.8L906.8 366.8L909.8 366.8L912.8 366.8L915.8 366.8L918.8 366.8L921.8 366.8L924.8 366.8L927.8 366.8L930.8 366.8L933.8 366.8L936.8 366.8L939.8 366.9L942.8 367.0L945.8 367.0L948.8 367.1L951.8 367.2L954.8 367.3L957.8 367.4L960.8 367.6L963.8 367.7L966.8 367.9L969.8 368.2L972.8 368.6L975.8 369.1L978.8 369.7L981.8 370.3L984.8 371.0L987.8 371.8L990.8 372.6L993.8 373.4L996.8 374.2L999.8 374.9L1002.8 375.8L1005.8 376.7L1008.8 377.6L1011.8 378.6L1014.8 379.7L1017.8 380.8L1020.8 382.0L1023.8 383.2L1026.8 384.4L1029.8 385.7L1119.8 424.0L1119.8 95.0L567.8 95.0Z" fill="url(#lime)"/>
<path d="M574.8 290.9L664.8 283.0L667.8 282.7L670.8 282.5L673.8 282.2L676.8 282.0L679.8 281.7L682.8 281.4L685.8 281.2L688.8 280.9L691.8 280.7L694.8 280.4L697.8 280.2L700.8 279.9L703.8 279.7L706.8 279.4L709.8 279.1L712.8 278.7L715.8 278.4L718.8 278.1L721.8 277.8L724.8 277.6L727.8 277.4L730.8 277.2L733.8 277.1L736.8 277.0L739.8 277.0L742.8 277.0L745.8 277.0L748.8 277.0L751.8 277.0L754.8 277.1L757.8 277.1L760.8 277.1L763.8 277.1L766.8 277.1L769.8 277.2L772.8 277.2L775.8 277.2L778.8 277.3L781.8 277.3L784.8 277.4L787.8 277.4L790.8 277.4L793.8 277.5L796.8 277.5L799.8 277.6L802.8 277.6L805.8 277.7L808.8 277.7L811.8 277.7L814.8 277.8L817.8 277.8L820.8 277.9L823.8 277.9L826.8 278.0L829.8 278.0L832.8 278.0L835.8 278.1L838.8 278.1L841.8 278.2L844.8 278.2L847.8 278.3L850.8 278.3L853.8 278.4L856.8 278.4L859.8 278.4L862.8 278.5L865.8 278.5L868.8 278.6L871.8 278.6L874.8 278.7L877.8 278.8L880.8 278.8L883.8 278.9L886.8 278.9L889.8 279.0L892.8 279.1L895.8 279.1L898.8 279.2L901.8 279.3L904.8 279.3L907.8 279.4L910.8 279.5L913.8 279.6L916.8 279.6L919.8 279.7L922.8 279.8L925.8 279.9L928.8 280.0L931.8 280.1L934.8 280.2L937.8 280.3L940.8 280.4L943.8 280.6L946.8 280.7L949.8 280.9L952.8 281.1L955.8 281.2L958.8 281.4L961.8 281.6L964.8 281.9L967.8 282.1L970.8 282.4L973.8 282.7L976.8 283.1L979.8 283.5L982.8 283.9L985.8 284.3L988.8 284.8L991.8 285.3L994.8 285.8L997.8 286.4L1000.8 287.1L1003.8 287.8L1006.8 288.5L1009.8 289.3L1012.8 290.1L1015.8 290.9L1018.8 291.8L1108.8 318.0L1108.8 95.0L574.8 95.0Z" fill="url(#surf)"/>
<path d="M518.9 857.7L608.9 836.7L611.9 836.0L614.9 835.3L617.9 834.6L620.9 834.0L623.9 833.3L626.9 832.7L629.9 832.0L632.9 831.4L635.9 830.8L638.9 830.2L641.9 829.6L644.9 829.0L647.9 828.5L650.9 827.9L653.9 827.3L656.9 826.8L659.9 826.3L662.9 825.8L665.9 825.3L668.9 824.8L671.9 824.4L674.9 824.0L677.9 823.5L680.9 823.1L683.9 822.7L686.9 822.4L689.9 822.0L692.9 821.7L695.9 821.4L698.9 821.1L701.9 820.8L704.9 820.6L707.9 820.3L710.9 820.1L713.9 819.8L716.9 819.6L719.9 819.4L722.9 819.2L725.9 819.0L728.9 818.9L731.9 818.8L734.9 818.7L737.9 818.7L740.9 818.7L743.9 818.7L746.9 818.7L749.9 818.8L752.9 818.8L755.9 818.8L758.9 818.9L761.9 819.0L764.9 819.0L767.9 819.1L770.9 819.2L773.9 819.2L776.9 819.3L779.9 819.4L782.9 819.5L785.9 819.6L788.9 819.7L791.9 819.8L794.9 819.9L797.9 820.1L800.9 820.4L803.9 820.7L806.9 821.0L809.9 821.3L812.9 821.7L815.9 822.1L818.9 822.5L821.9 822.9L824.9 823.3L827.9 823.7L830.9 824.2L833.9 824.6L836.9 825.0L839.9 825.5L842.9 825.9L845.9 826.3L848.9 826.6L851.9 827.0L854.9 827.3L857.9 827.7L860.9 828.0L863.9 828.4L866.9 828.7L869.9 829.1L872.9 829.4L875.9 829.8L878.9 830.1L881.9 830.5L884.9 830.9L887.9 831.2L890.9 831.6L893.9 831.9L896.9 832.3L899.9 832.7L902.9 833.1L905.9 833.5L908.9 833.9L911.9 834.3L914.9 834.7L917.9 835.1L920.9 835.5L923.9 835.9L926.9 836.3L929.9 836.8L932.9 837.2L935.9 837.7L938.9 838.1L941.9 838.6L944.9 839.0L947.9 839.5L950.9 839.9L953.9 840.4L956.9 840.9L959.9 841.3L962.9 841.8L965.9 842.3L968.9 842.7L971.9 843.2L974.9 843.7L977.9 844.2L980.9 844.6L983.9 845.1L986.9 845.6L989.9 846.1L992.9 846.6L995.9 847.0L998.9 847.5L1001.9 848.0L1004.9 848.5L1007.9 849.0L1010.9 849.5L1013.9 850.1L1016.9 850.6L1019.9 851.1L1022.9 851.6L1025.9 852.2L1028.9 852.7L1031.9 853.3L1034.9 853.9L1037.9 854.4L1040.9 855.0L1043.9 855.6L1046.9 856.2L1049.9 856.9L1052.9 857.5L1055.9 858.1L1058.9 858.7L1061.9 859.4L1064.9 860.0L1067.9 860.7L1068.8 860.9L1158.8 880.7" fill="none" stroke="#000" stroke-width="1.5" stroke-linejoin="round"/>
<path d="M526.9 752.7L616.9 752.8L619.9 752.8L622.9 752.8L625.9 752.8L628.9 752.9L631.9 752.9L634.9 753.0L637.9 753.0L640.9 753.1L643.9 753.2L646.9 753.2L649.9 753.3L652.9 753.4L655.9 753.5L658.9 753.6L661.9 753.7L664.9 753.8L667.9 753.9L670.9 754.0L673.9 754.1L676.9 754.3L679.9 754.4L682.9 754.5L685.9 754.6L688.9 754.8L691.9 754.9L694.9 755.1L697.9 755.2L700.9 755.4L703.9 755.6L706.9 755.9L709.9 756.1L712.9 756.4L715.9 756.7L718.9 757.0L721.9 757.3L724.9 757.6L727.9 757.9L730.9 758.3L733.9 758.6L736.9 758.9L739.9 759.3L742.9 759.7L745.9 760.0L748.9 760.4L751.9 760.7L754.9 761.1L757.9 761.4L760.9 761.8L763.9 762.2L766.9 762.5L769.9 762.8L772.9 763.2L775.9 763.5L778.9 763.9L781.9 764.3L784.9 764.7L787.9 765.1L790.9 765.5L793.9 765.9L796.9 766.3L799.9 766.7L802.9 767.2L805.9 767.6L808.9 768.0L811.9 768.4L814.9 768.8L817.9 769.3L820.9 769.7L823.9 770.0L826.9 770.4L829.9 770.8L832.9 771.1L835.9 771.5L838.9 771.8L841.9 772.1L844.9 772.4L847.9 772.7L850.9 772.9L853.9 773.1L856.9 773.4L859.9 773.6L862.9 773.8L865.9 774.0L868.9 774.1L871.9 774.3L874.9 774.5L877.9 774.7L880.9 774.8L883.9 775.0L886.9 775.2L889.9 775.3L892.9 775.5L895.9 775.7L898.9 775.8L901.9 776.0L904.9 776.2L907.9 776.4L910.9 776.6L913.9 776.8L916.9 777.0L919.9 777.1L922.9 777.3L925.9 777.6L928.9 777.8L931.9 778.0L934.9 778.2L937.9 778.4L940.9 778.6L943.9 778.8L946.9 779.0L949.9 779.2L952.9 779.4L955.9 779.6L958.9 779.8L961.9 780.0L964.9 780.3L967.9 780.5L970.9 780.7L973.9 780.9L976.9 781.1L979.9 781.3L982.9 781.5L985.9 781.7L988.9 781.9L991.9 782.1L994.9 782.3L997.9 782.5L1000.9 782.8L1003.9 783.0L1006.9 783.2L1009.9 783.4L1012.9 783.6L1015.9 783.8L1018.9 784.0L1021.9 784.2L1024.9 784.4L1027.9 784.6L1030.9 784.8L1033.9 785.0L1036.9 785.2L1039.9 785.4L1042.9 785.6L1045.9 785.8L1048.9 786.0L1051.9 786.3L1054.9 786.5L1057.9 786.7L1060.9 786.9L1062.8 787.0L1152.8 793.2" fill="none" stroke="#000" stroke-width="1.5" stroke-linejoin="round"/>
<path d="M541.8 598.5L631.8 605.7L634.8 605.9L637.8 606.2L640.8 606.4L643.8 606.7L646.8 606.9L649.8 607.1L652.8 607.4L655.8 607.6L658.8 607.9L661.8 608.1L664.8 608.4L667.8 608.6L670.8 608.9L673.8 609.1L676.8 609.4L679.8 609.6L682.8 609.9L685.8 610.1L688.8 610.4L691.8 610.7L694.8 610.9L697.8 611.2L700.8 611.4L703.8 611.6L706.8 611.9L709.8 612.1L712.8 612.4L715.8 612.6L718.8 612.9L721.8 613.2L724.8 613.4L727.8 613.7L730.8 614.0L733.8 614.3L736.8 614.6L739.8 614.9L742.8 615.3L745.8 615.6L748.8 616.0L751.8 616.3L754.8 616.7L757.8 617.1L760.8 617.5L763.8 617.9L766.8 618.3L769.8 618.7L772.8 619.1L775.8 619.6L778.8 620.0L781.8 620.4L784.8 620.9L787.8 621.3L790.8 621.8L793.8 622.2L796.8 622.7L799.8 623.2L802.8 623.6L805.8 624.1L808.8 624.5L811.8 625.0L814.8 625.5L817.8 625.9L820.8 626.4L823.8 626.8L826.8 627.3L829.8 627.7L832.8 628.2L835.8 628.6L838.8 629.1L841.8 629.6L844.8 630.1L847.8 630.5L850.8 631.0L853.8 631.5L856.8 632.0L859.8 632.5L862.8 633.0L865.8 633.4L868.8 633.9L871.8 634.3L874.8 634.8L877.8 635.2L880.8 635.6L883.8 636.0L886.8 636.4L889.8 636.9L892.8 637.3L895.8 637.7L898.8 638.1L901.8 638.6L904.8 639.0L907.8 639.4L910.8 639.7L913.8 640.1L916.8 640.4L919.8 640.7L922.8 641.0L925.8 641.2L928.8 641.5L931.8 641.6L934.8 641.8L937.8 642.0L940.8 642.1L943.8 642.3L946.8 642.4L949.8 642.5L952.8 642.6L955.8 642.7L958.8 642.9L961.8 643.0L964.8 643.1L967.8 643.2L970.8 643.3L973.8 643.4L976.8 643.5L979.8 643.6L982.8 643.7L985.8 643.8L988.8 644.0L991.8 644.1L994.8 644.2L997.8 644.4L1000.8 644.5L1003.8 644.6L1006.8 644.8L1009.8 644.9L1012.8 645.1L1015.8 645.2L1018.8 645.3L1021.8 645.5L1024.8 645.6L1027.8 645.8L1030.8 645.9L1033.8 646.1L1036.8 646.2L1039.8 646.4L1042.8 646.5L1045.8 646.7L1048.8 646.8L1049.8 646.9L1139.8 651.6" fill="none" stroke="#000" stroke-width="1.5" stroke-linejoin="round"/>
<path d="M549.8 517.4L639.8 533.8L642.8 534.3L645.8 534.9L648.8 535.4L651.8 536.0L654.8 536.5L657.8 537.1L660.8 537.6L663.8 538.2L666.8 538.7L669.8 539.3L672.8 539.8L675.8 540.4L678.8 540.9L681.8 541.5L684.8 542.0L687.8 542.6L690.8 543.1L693.8 543.7L696.8 544.3L699.8 544.9L702.8 545.6L705.8 546.2L708.8 546.8L711.8 547.5L714.8 548.1L717.8 548.7L720.8 549.3L723.8 549.8L726.8 550.3L729.8 550.8L732.8 551.2L735.8 551.6L738.8 551.9L741.8 552.2L744.8 552.5L747.8 552.7L750.8 553.0L753.8 553.2L756.8 553.5L759.8 553.7L762.8 553.9L765.8 554.1L768.8 554.3L771.8 554.5L774.8 554.7L777.8 554.9L780.8 555.0L783.8 555.2L786.8 555.4L789.8 555.5L792.8 555.7L795.8 555.8L798.8 556.0L801.8 556.2L804.8 556.3L807.8 556.5L810.8 556.7L813.8 556.8L816.8 557.0L819.8 557.2L822.8 557.4L825.8 557.5L828.8 557.7L831.8 557.9L834.8 558.1L837.8 558.3L840.8 558.5L843.8 558.7L846.8 558.9L849.8 559.1L852.8 559.3L855.8 559.5L858.8 559.7L861.8 559.9L864.8 560.1L867.8 560.3L870.8 560.5L873.8 560.7L876.8 560.9L879.8 561.1L882.8 561.3L885.8 561.5L888.8 561.8L891.8 562.0L894.8 562.2L897.8 562.5L900.8 562.7L903.8 563.0L906.8 563.2L909.8 563.5L912.8 563.8L915.8 564.1L918.8 564.4L921.8 564.7L924.8 565.1L927.8 565.4L930.8 565.8L933.8 566.2L936.8 566.6L939.8 567.0L942.8 567.3L945.8 567.7L948.8 568.1L951.8 568.5L954.8 568.9L957.8 569.3L960.8 569.7L963.8 570.0L966.8 570.4L969.8 570.7L972.8 571.0L975.8 571.3L978.8 571.6L981.8 572.0L984.8 572.3L987.8 572.6L990.8 572.9L993.8 573.2L996.8 573.5L999.8 573.8L1002.8 574.1L1005.8 574.4L1008.8 574.7L1011.8 575.0L1014.8 575.2L1017.8 575.5L1020.8 575.8L1023.8 576.1L1026.8 576.4L1029.8 576.6L1032.8 576.9L1035.8 577.2L1038.8 577.4L1041.8 577.7L1044.8 577.9L1045.8 578.0L1135.8 585.5" fill="none" stroke="#000" stroke-width="1.5" stroke-linejoin="round"/>
<path d="M561.8 420.0L651.8 414.7L654.8 414.5L657.8 414.4L660.8 414.2L663.8 414.0L666.8 413.9L669.8 413.7L672.8 413.6L675.8 413.4L678.8 413.3L681.8 413.2L684.8 413.0L687.8 412.9L690.8 412.8L693.8 412.7L696.8 412.6L699.8 412.5L702.8 412.4L705.8 412.3L708.8 412.2L711.8 412.2L714.8 412.1L717.8 412.0L720.8 411.9L723.8 411.9L726.8 411.8L729.8 411.8L732.8 411.7L735.8 411.7L738.8 411.7L741.8 411.8L744.8 411.9L747.8 412.0L750.8 412.2L753.8 412.5L756.8 412.8L759.8 413.0L762.8 413.3L765.8 413.6L768.8 413.9L771.8 414.2L774.8 414.5L777.8 414.8L780.8 415.1L783.8 415.5L786.8 415.8L789.8 416.2L792.8 416.6L795.8 417.0L798.8 417.4L801.8 417.7L804.8 418.1L807.8 418.5L810.8 418.8L813.8 419.2L816.8 419.6L819.8 420.1L822.8 420.5L825.8 421.0L828.8 421.4L831.8 421.9L834.8 422.4L837.8 422.8L840.8 423.3L843.8 423.7L846.8 424.2L849.8 424.6L852.8 425.0L855.8 425.3L858.8 425.7L861.8 425.9L864.8 426.2L867.8 426.4L870.8 426.6L873.8 426.7L876.8 426.7L879.8 426.7L882.8 426.7L885.8 426.7L888.8 426.7L891.8 426.7L894.8 426.7L897.8 426.7L900.8 426.7L903.8 426.7L906.8 426.7L909.8 426.7L912.8 426.7L915.8 426.7L918.8 426.7L921.8 426.7L924.8 426.7L927.8 426.7L930.8 426.7L933.8 426.7L936.8 426.7L939.8 426.6L942.8 426.6L945.8 426.6L948.8 426.5L951.8 426.5L954.8 426.5L957.8 426.4L960.8 426.4L963.8 426.4L966.8 426.3L969.8 426.3L972.8 426.3L975.8 426.3L978.8 426.4L981.8 426.6L984.8 427.0L987.8 427.4L990.8 428.0L993.8 428.6L996.8 429.2L999.8 429.9L1002.8 430.5L1005.8 431.2L1008.8 431.9L1011.8 432.6L1014.8 433.4L1017.8 434.3L1020.8 435.2L1023.8 436.1L1026.8 437.2L1029.8 438.2L1031.8 438.9L1121.8 470.9" fill="none" stroke="#000" stroke-width="1.5" stroke-linejoin="round"/>
<path d="M567.8 361.3L657.8 350.8L660.8 350.4L663.8 350.1L666.8 349.8L669.8 349.4L672.8 349.1L675.8 348.8L678.8 348.5L681.8 348.2L684.8 347.9L687.8 347.6L690.8 347.3L693.8 347.0L696.8 346.8L699.8 346.5L702.8 346.3L705.8 346.0L708.8 345.7L711.8 345.4L714.8 345.1L717.8 344.8L720.8 344.6L723.8 344.4L726.8 344.2L729.8 344.0L732.8 343.9L735.8 343.8L738.8 343.8L741.8 343.9L744.8 344.1L747.8 344.4L750.8 344.8L753.8 345.3L756.8 345.8L759.8 346.3L762.8 346.8L765.8 347.3L768.8 347.8L771.8 348.3L774.8 348.8L777.8 349.3L780.8 349.9L783.8 350.5L786.8 351.2L789.8 351.8L792.8 352.4L795.8 353.1L798.8 353.7L801.8 354.3L804.8 354.9L807.8 355.5L810.8 356.0L813.8 356.6L816.8 357.2L819.8 357.8L822.8 358.4L825.8 359.1L828.8 359.7L831.8 360.4L834.8 361.0L837.8 361.6L840.8 362.3L843.8 362.9L846.8 363.5L849.8 364.0L852.8 364.5L855.8 365.0L858.8 365.4L861.8 365.8L864.8 366.1L867.8 366.4L870.8 366.6L873.8 366.7L876.8 366.8L879.8 366.8L882.8 366.8L885.8 366.8L888.8 366.8L891.8 366.8L894.8 366.8L897.8 366.8L900.8 366.8L903.8 366.8L906.8 366.8L909.8 366.8L912.8 366.8L915.8 366.8L918.8 366.8L921.8 366.8L924.8 366.8L927.8 366.8L930.8 366.8L933.8 366.8L936.8 366.8L939.8 366.9L942.8 367.0L945.8 367.0L948.8 367.1L951.8 367.2L954.8 367.3L957.8 367.4L960.8 367.6L963.8 367.7L966.8 367.9L969.8 368.2L972.8 368.6L975.8 369.1L978.8 369.7L981.8 370.3L984.8 371.0L987.8 371.8L990.8 372.6L993.8 373.4L996.8 374.2L999.8 374.9L1002.8 375.8L1005.8 376.7L1008.8 377.6L1011.8 378.6L1014.8 379.7L1017.8 380.8L1020.8 382.0L1023.8 383.2L1026.8 384.4L1029.8 385.7L1119.8 424.0" fill="none" stroke="#000" stroke-width="1.5" stroke-linejoin="round"/>
<path d="M574.8 290.9L664.8 283.0L667.8 282.7L670.8 282.5L673.8 282.2L676.8 282.0L679.8 281.7L682.8 281.4L685.8 281.2L688.8 280.9L691.8 280.7L694.8 280.4L697.8 280.2L700.8 279.9L703.8 279.7L706.8 279.4L709.8 279.1L712.8 278.7L715.8 278.4L718.8 278.1L721.8 277.8L724.8 277.6L727.8 277.4L730.8 277.2L733.8 277.1L736.8 277.0L739.8 277.0L742.8 277.0L745.8 277.0L748.8 277.0L751.8 277.0L754.8 277.1L757.8 277.1L760.8 277.1L763.8 277.1L766.8 277.1L769.8 277.2L772.8 277.2L775.8 277.2L778.8 277.3L781.8 277.3L784.8 277.4L787.8 277.4L790.8 277.4L793.8 277.5L796.8 277.5L799.8 277.6L802.8 277.6L805.8 277.7L808.8 277.7L811.8 277.7L814.8 277.8L817.8 277.8L820.8 277.9L823.8 277.9L826.8 278.0L829.8 278.0L832.8 278.0L835.8 278.1L838.8 278.1L841.8 278.2L844.8 278.2L847.8 278.3L850.8 278.3L853.8 278.4L856.8 278.4L859.8 278.4L862.8 278.5L865.8 278.5L868.8 278.6L871.8 278.6L874.8 278.7L877.8 278.8L880.8 278.8L883.8 278.9L886.8 278.9L889.8 279.0L892.8 279.1L895.8 279.1L898.8 279.2L901.8 279.3L904.8 279.3L907.8 279.4L910.8 279.5L913.8 279.6L916.8 279.6L919.8 279.7L922.8 279.8L925.8 279.9L928.8 280.0L931.8 280.1L934.8 280.2L937.8 280.3L940.8 280.4L943.8 280.6L946.8 280.7L949.8 280.9L952.8 281.1L955.8 281.2L958.8 281.4L961.8 281.6L964.8 281.9L967.8 282.1L970.8 282.4L973.8 282.7L976.8 283.1L979.8 283.5L982.8 283.9L985.8 284.3L988.8 284.8L991.8 285.3L994.8 285.8L997.8 286.4L1000.8 287.1L1003.8 287.8L1006.8 288.5L1009.8 289.3L1012.8 290.1L1015.8 290.9L1018.8 291.8L1108.8 318.0" fill="none" stroke="#000" stroke-width="1.5" stroke-linejoin="round"/>
</g>
<g clip-path="url(#clipD)">
<rect x="150.0" y="100.0" width="1448.0" height="1052.0" fill="url(#nub)"/>
<path d="M982.8 877.0L1072.8 892.8L1075.8 893.3L1078.8 893.8L1081.8 894.3L1084.8 894.8L1087.8 895.2L1090.8 895.6L1093.8 895.9L1096.8 896.2L1099.8 896.4L1102.8 896.6L1105.8 896.7L1108.8 896.8L1111.8 896.8L1114.8 896.8L1117.8 896.8L1120.8 896.8L1123.8 896.8L1126.8 896.8L1129.8 896.8L1132.8 896.8L1135.8 896.7L1138.8 896.5L1141.8 896.3L1144.8 896.0L1147.8 895.7L1150.8 895.3L1153.8 895.0L1156.8 894.6L1159.8 894.2L1162.8 893.7L1165.8 893.3L1168.8 892.9L1171.8 892.5L1174.8 892.1L1177.8 891.6L1180.8 891.1L1183.8 890.5L1186.8 890.0L1189.8 889.4L1192.8 888.8L1195.8 888.1L1198.8 887.4L1201.8 886.8L1204.8 886.0L1207.8 885.3L1210.8 884.6L1213.8 883.8L1216.8 883.0L1217.5 882.8L1307.5 858.7L1307.5 95.0L982.8 95.0Z" fill="url(#clay)"/>
<path d="M977.8 810.1L1067.8 809.9L1070.8 809.9L1073.8 809.9L1076.8 809.8L1079.8 809.8L1082.8 809.8L1085.8 809.7L1088.8 809.6L1091.8 809.5L1094.8 809.5L1097.8 809.4L1100.8 809.2L1103.8 809.1L1106.8 809.0L1109.8 808.9L1112.8 808.7L1115.8 808.4L1118.8 808.1L1121.8 807.7L1124.8 807.2L1127.8 806.6L1130.8 806.0L1133.8 805.4L1136.8 804.7L1139.8 804.1L1142.8 803.4L1145.8 802.7L1148.8 802.1L1151.8 801.4L1154.8 800.7L1157.8 800.0L1160.8 799.3L1163.8 798.5L1166.8 797.8L1169.8 796.9L1172.8 796.1L1175.8 795.2L1178.8 794.3L1181.8 793.4L1184.8 792.5L1187.8 791.5L1190.8 790.5L1193.8 789.4L1196.8 788.3L1199.8 787.2L1202.8 786.0L1205.8 784.7L1208.8 783.4L1211.8 782.1L1214.8 780.7L1217.5 779.5L1307.5 738.1L1307.5 95.0L977.8 95.0Z" fill="url(#dolo)"/>
<path d="M964.8 667.4L1054.8 668.8L1057.8 668.8L1060.8 668.9L1063.8 668.9L1066.8 668.9L1069.8 669.0L1072.8 669.0L1075.8 669.0L1078.8 669.0L1081.8 669.0L1084.8 669.0L1087.8 669.0L1090.8 669.0L1093.8 668.9L1096.8 668.7L1099.8 668.5L1102.8 668.2L1105.8 667.8L1108.8 667.4L1111.8 666.9L1114.8 666.4L1117.8 665.9L1120.8 665.4L1123.8 664.8L1126.8 664.3L1129.8 663.8L1132.8 663.2L1135.8 662.7L1138.8 662.1L1141.8 661.4L1144.8 660.7L1147.8 660.0L1150.8 659.2L1153.8 658.4L1156.8 657.6L1159.8 656.8L1162.8 655.9L1165.8 655.1L1168.8 654.1L1171.8 653.2L1174.8 652.2L1177.8 651.1L1180.8 650.0L1183.8 648.8L1186.8 647.6L1189.8 646.4L1192.8 645.1L1195.8 643.8L1198.8 642.5L1201.8 641.2L1204.8 639.9L1207.8 638.6L1210.8 637.3L1213.8 636.0L1216.8 634.7L1219.8 633.4L1222.8 632.0L1225.8 630.6L1228.8 629.2L1229.5 628.9L1319.5 587.0L1319.5 95.0L964.8 95.0Z" fill="url(#clay)"/>
<path d="M957.8 600.7L1047.8 599.7L1050.8 599.7L1053.8 599.6L1056.8 599.4L1059.8 599.2L1062.8 598.9L1065.8 598.7L1068.8 598.3L1071.8 598.0L1074.8 597.6L1077.8 597.3L1080.8 596.9L1083.8 596.4L1086.8 595.8L1089.8 595.2L1092.8 594.5L1095.8 593.7L1098.8 592.8L1101.8 591.9L1104.8 591.0L1107.8 590.0L1110.8 588.9L1113.8 587.8L1116.8 586.8L1119.8 585.7L1122.8 584.5L1125.8 583.4L1128.8 582.3L1131.8 581.2L1134.8 580.1L1137.8 578.9L1140.8 577.6L1143.8 576.3L1146.8 575.0L1149.8 573.6L1152.8 572.2L1155.8 570.8L1158.8 569.3L1161.8 567.9L1164.8 566.4L1167.8 564.9L1170.8 563.4L1173.8 561.9L1176.8 560.3L1179.8 558.7L1182.8 557.1L1185.8 555.5L1188.8 553.8L1191.8 552.1L1194.8 550.4L1197.8 548.7L1200.8 546.9L1203.8 545.2L1206.8 543.4L1209.8 541.6L1212.8 539.8L1215.8 538.0L1218.8 536.2L1221.8 534.3L1224.8 532.4L1227.8 530.5L1230.8 528.6L1233.5 526.8L1323.5 468.4L1323.5 95.0L957.8 95.0Z" fill="url(#inter)"/>
<path d="M946.8 493.1L1036.8 459.9L1039.8 458.8L1042.8 457.7L1045.8 456.6L1048.8 455.5L1051.8 454.4L1054.8 453.3L1057.8 452.2L1060.8 451.1L1063.8 450.1L1066.8 449.0L1069.8 447.9L1072.8 446.8L1075.8 445.8L1078.8 444.7L1081.8 443.6L1084.8 442.6L1087.8 441.5L1090.8 440.5L1093.8 439.4L1096.8 438.4L1099.8 437.3L1102.8 436.3L1105.8 435.2L1108.8 434.2L1111.8 433.2L1114.8 432.2L1117.8 431.1L1120.8 430.1L1123.8 429.1L1126.8 428.1L1129.8 427.1L1132.8 426.1L1135.8 425.2L1138.8 424.2L1141.8 423.2L1144.8 422.2L1147.8 421.2L1150.8 420.2L1153.8 419.2L1156.8 418.2L1159.8 417.2L1162.8 416.2L1165.8 415.2L1168.8 414.2L1171.8 413.1L1174.8 412.1L1177.8 411.1L1180.8 410.0L1183.8 409.0L1186.8 408.0L1189.8 406.9L1192.8 405.9L1195.8 404.8L1198.8 403.8L1201.8 402.7L1204.8 401.7L1207.8 400.6L1210.8 399.6L1213.8 398.5L1216.8 397.4L1219.8 396.4L1222.8 395.3L1225.8 394.2L1228.8 393.2L1231.8 392.1L1234.8 391.0L1237.8 389.9L1239.5 389.3L1329.5 356.8L1329.5 95.0L946.8 95.0Z" fill="url(#clay)"/>
<path d="M940.8 376.6L1030.8 394.0L1033.8 394.6L1036.8 395.1L1039.8 395.6L1042.8 396.0L1045.8 396.3L1048.8 396.5L1051.8 396.5L1054.8 396.5L1057.8 396.5L1060.8 396.5L1063.8 396.5L1066.8 396.5L1069.8 396.5L1072.8 396.4L1075.8 396.2L1078.8 395.8L1081.8 395.3L1084.8 394.7L1087.8 394.0L1090.8 393.3L1093.8 392.5L1096.8 391.7L1099.8 390.9L1102.8 390.1L1105.8 389.4L1108.8 388.7L1111.8 388.1L1114.8 387.5L1117.8 386.8L1120.8 386.2L1123.8 385.6L1126.8 385.0L1129.8 384.4L1132.8 383.8L1135.8 383.1L1138.8 382.4L1141.8 381.7L1144.8 381.0L1147.8 380.3L1150.8 379.5L1153.8 378.6L1156.8 377.8L1159.8 376.9L1162.8 376.0L1165.8 375.0L1168.8 374.0L1171.8 373.0L1174.8 372.0L1177.8 370.9L1180.8 369.8L1183.8 368.7L1186.8 367.6L1189.8 366.4L1192.8 365.3L1195.8 364.1L1198.8 363.0L1201.8 361.8L1204.8 360.6L1207.8 359.4L1210.8 358.2L1213.8 356.9L1216.8 355.7L1219.8 354.4L1222.8 353.0L1225.8 351.7L1228.8 350.3L1231.8 348.9L1234.8 347.5L1237.8 346.1L1240.8 344.6L1242.5 343.8L1332.5 300.1L1332.5 95.0L940.8 95.0Z" fill="url(#lime)"/>
<path d="M932.8 312.9L1022.8 303.8L1025.8 303.5L1028.8 303.2L1031.8 302.8L1034.8 302.4L1037.8 302.1L1040.8 301.6L1043.8 301.2L1046.8 300.8L1049.8 300.3L1052.8 299.8L1055.8 299.3L1058.8 298.8L1061.8 298.3L1064.8 297.7L1067.8 297.2L1070.8 296.6L1073.8 296.0L1076.8 295.4L1079.8 294.7L1082.8 294.0L1085.8 293.3L1088.8 292.5L1091.8 291.7L1094.8 291.0L1097.8 290.2L1100.8 289.4L1103.8 288.6L1106.8 287.8L1109.8 287.0L1112.8 286.2L1115.8 285.4L1118.8 284.6L1121.8 283.8L1124.8 282.9L1127.8 282.1L1130.8 281.3L1133.8 280.4L1136.8 279.6L1139.8 278.7L1142.8 277.9L1145.8 277.0L1148.8 276.1L1151.8 275.3L1154.8 274.4L1157.8 273.6L1160.8 272.7L1163.8 271.9L1166.8 271.0L1169.8 270.1L1172.8 269.3L1175.8 268.4L1178.8 267.6L1181.8 266.7L1184.8 265.8L1187.8 264.9L1190.8 264.0L1193.8 263.0L1196.8 262.1L1199.8 261.1L1202.8 260.2L1205.8 259.2L1208.8 258.1L1211.8 257.1L1214.8 256.0L1217.8 254.9L1220.8 253.8L1223.8 252.6L1226.8 251.4L1229.8 250.2L1232.8 249.0L1235.8 247.8L1238.8 246.5L1241.8 245.2L1244.8 244.0L1247.8 242.6L1249.5 241.9L1339.5 202.4L1339.5 95.0L932.8 95.0Z" fill="url(#surf)"/>
<path d="M982.8 877.0L1072.8 892.8L1075.8 893.3L1078.8 893.8L1081.8 894.3L1084.8 894.8L1087.8 895.2L1090.8 895.6L1093.8 895.9L1096.8 896.2L1099.8 896.4L1102.8 896.6L1105.8 896.7L1108.8 896.8L1111.8 896.8L1114.8 896.8L1117.8 896.8L1120.8 896.8L1123.8 896.8L1126.8 896.8L1129.8 896.8L1132.8 896.8L1135.8 896.7L1138.8 896.5L1141.8 896.3L1144.8 896.0L1147.8 895.7L1150.8 895.3L1153.8 895.0L1156.8 894.6L1159.8 894.2L1162.8 893.7L1165.8 893.3L1168.8 892.9L1171.8 892.5L1174.8 892.1L1177.8 891.6L1180.8 891.1L1183.8 890.5L1186.8 890.0L1189.8 889.4L1192.8 888.8L1195.8 888.1L1198.8 887.4L1201.8 886.8L1204.8 886.0L1207.8 885.3L1210.8 884.6L1213.8 883.8L1216.8 883.0L1217.5 882.8L1307.5 858.7" fill="none" stroke="#000" stroke-width="1.5" stroke-linejoin="round"/>
<path d="M977.8 810.1L1067.8 809.9L1070.8 809.9L1073.8 809.9L1076.8 809.8L1079.8 809.8L1082.8 809.8L1085.8 809.7L1088.8 809.6L1091.8 809.5L1094.8 809.5L1097.8 809.4L1100.8 809.2L1103.8 809.1L1106.8 809.0L1109.8 808.9L1112.8 808.7L1115.8 808.4L1118.8 808.1L1121.8 807.7L1124.8 807.2L1127.8 806.6L1130.8 806.0L1133.8 805.4L1136.8 804.7L1139.8 804.1L1142.8 803.4L1145.8 802.7L1148.8 802.1L1151.8 801.4L1154.8 800.7L1157.8 800.0L1160.8 799.3L1163.8 798.5L1166.8 797.8L1169.8 796.9L1172.8 796.1L1175.8 795.2L1178.8 794.3L1181.8 793.4L1184.8 792.5L1187.8 791.5L1190.8 790.5L1193.8 789.4L1196.8 788.3L1199.8 787.2L1202.8 786.0L1205.8 784.7L1208.8 783.4L1211.8 782.1L1214.8 780.7L1217.5 779.5L1307.5 738.1" fill="none" stroke="#000" stroke-width="1.5" stroke-linejoin="round"/>
<path d="M964.8 667.4L1054.8 668.8L1057.8 668.8L1060.8 668.9L1063.8 668.9L1066.8 668.9L1069.8 669.0L1072.8 669.0L1075.8 669.0L1078.8 669.0L1081.8 669.0L1084.8 669.0L1087.8 669.0L1090.8 669.0L1093.8 668.9L1096.8 668.7L1099.8 668.5L1102.8 668.2L1105.8 667.8L1108.8 667.4L1111.8 666.9L1114.8 666.4L1117.8 665.9L1120.8 665.4L1123.8 664.8L1126.8 664.3L1129.8 663.8L1132.8 663.2L1135.8 662.7L1138.8 662.1L1141.8 661.4L1144.8 660.7L1147.8 660.0L1150.8 659.2L1153.8 658.4L1156.8 657.6L1159.8 656.8L1162.8 655.9L1165.8 655.1L1168.8 654.1L1171.8 653.2L1174.8 652.2L1177.8 651.1L1180.8 650.0L1183.8 648.8L1186.8 647.6L1189.8 646.4L1192.8 645.1L1195.8 643.8L1198.8 642.5L1201.8 641.2L1204.8 639.9L1207.8 638.6L1210.8 637.3L1213.8 636.0L1216.8 634.7L1219.8 633.4L1222.8 632.0L1225.8 630.6L1228.8 629.2L1229.5 628.9L1319.5 587.0" fill="none" stroke="#000" stroke-width="1.5" stroke-linejoin="round"/>
<path d="M957.8 600.7L1047.8 599.7L1050.8 599.7L1053.8 599.6L1056.8 599.4L1059.8 599.2L1062.8 598.9L1065.8 598.7L1068.8 598.3L1071.8 598.0L1074.8 597.6L1077.8 597.3L1080.8 596.9L1083.8 596.4L1086.8 595.8L1089.8 595.2L1092.8 594.5L1095.8 593.7L1098.8 592.8L1101.8 591.9L1104.8 591.0L1107.8 590.0L1110.8 588.9L1113.8 587.8L1116.8 586.8L1119.8 585.7L1122.8 584.5L1125.8 583.4L1128.8 582.3L1131.8 581.2L1134.8 580.1L1137.8 578.9L1140.8 577.6L1143.8 576.3L1146.8 575.0L1149.8 573.6L1152.8 572.2L1155.8 570.8L1158.8 569.3L1161.8 567.9L1164.8 566.4L1167.8 564.9L1170.8 563.4L1173.8 561.9L1176.8 560.3L1179.8 558.7L1182.8 557.1L1185.8 555.5L1188.8 553.8L1191.8 552.1L1194.8 550.4L1197.8 548.7L1200.8 546.9L1203.8 545.2L1206.8 543.4L1209.8 541.6L1212.8 539.8L1215.8 538.0L1218.8 536.2L1221.8 534.3L1224.8 532.4L1227.8 530.5L1230.8 528.6L1233.5 526.8L1323.5 468.4" fill="none" stroke="#000" stroke-width="1.5" stroke-linejoin="round"/>
<path d="M946.8 493.1L1036.8 459.9L1039.8 458.8L1042.8 457.7L1045.8 456.6L1048.8 455.5L1051.8 454.4L1054.8 453.3L1057.8 452.2L1060.8 451.1L1063.8 450.1L1066.8 449.0L1069.8 447.9L1072.8 446.8L1075.8 445.8L1078.8 444.7L1081.8 443.6L1084.8 442.6L1087.8 441.5L1090.8 440.5L1093.8 439.4L1096.8 438.4L1099.8 437.3L1102.8 436.3L1105.8 435.2L1108.8 434.2L1111.8 433.2L1114.8 432.2L1117.8 431.1L1120.8 430.1L1123.8 429.1L1126.8 428.1L1129.8 427.1L1132.8 426.1L1135.8 425.2L1138.8 424.2L1141.8 423.2L1144.8 422.2L1147.8 421.2L1150.8 420.2L1153.8 419.2L1156.8 418.2L1159.8 417.2L1162.8 416.2L1165.8 415.2L1168.8 414.2L1171.8 413.1L1174.8 412.1L1177.8 411.1L1180.8 410.0L1183.8 409.0L1186.8 408.0L1189.8 406.9L1192.8 405.9L1195.8 404.8L1198.8 403.8L1201.8 402.7L1204.8 401.7L1207.8 400.6L1210.8 399.6L1213.8 398.5L1216.8 397.4L1219.8 396.4L1222.8 395.3L1225.8 394.2L1228.8 393.2L1231.8 392.1L1234.8 391.0L1237.8 389.9L1239.5 389.3L1329.5 356.8" fill="none" stroke="#000" stroke-width="1.5" stroke-linejoin="round"/>
<path d="M940.8 376.6L1030.8 394.0L1033.8 394.6L1036.8 395.1L1039.8 395.6L1042.8 396.0L1045.8 396.3L1048.8 396.5L1051.8 396.5L1054.8 396.5L1057.8 396.5L1060.8 396.5L1063.8 396.5L1066.8 396.5L1069.8 396.5L1072.8 396.4L1075.8 396.2L1078.8 395.8L1081.8 395.3L1084.8 394.7L1087.8 394.0L1090.8 393.3L1093.8 392.5L1096.8 391.7L1099.8 390.9L1102.8 390.1L1105.8 389.4L1108.8 388.7L1111.8 388.1L1114.8 387.5L1117.8 386.8L1120.8 386.2L1123.8 385.6L1126.8 385.0L1129.8 384.4L1132.8 383.8L1135.8 383.1L1138.8 382.4L1141.8 381.7L1144.8 381.0L1147.8 380.3L1150.8 379.5L1153.8 378.6L1156.8 377.8L1159.8 376.9L1162.8 376.0L1165.8 375.0L1168.8 374.0L1171.8 373.0L1174.8 372.0L1177.8 370.9L1180.8 369.8L1183.8 368.7L1186.8 367.6L1189.8 366.4L1192.8 365.3L1195.8 364.1L1198.8 363.0L1201.8 361.8L1204.8 360.6L1207.8 359.4L1210.8 358.2L1213.8 356.9L1216.8 355.7L1219.8 354.4L1222.8 353.0L1225.8 351.7L1228.8 350.3L1231.8 348.9L1234.8 347.5L1237.8 346.1L1240.8 344.6L1242.5 343.8L1332.5 300.1" fill="none" stroke="#000" stroke-width="1.5" stroke-linejoin="round"/>
<path d="M932.8 312.9L1022.8 303.8L1025.8 303.5L1028.8 303.2L1031.8 302.8L1034.8 302.4L1037.8 302.1L1040.8 301.6L1043.8 301.2L1046.8 300.8L1049.8 300.3L1052.8 299.8L1055.8 299.3L1058.8 298.8L1061.8 298.3L1064.8 297.7L1067.8 297.2L1070.8 296.6L1073.8 296.0L1076.8 295.4L1079.8 294.7L1082.8 294.0L1085.8 293.3L1088.8 292.5L1091.8 291.7L1094.8 291.0L1097.8 290.2L1100.8 289.4L1103.8 288.6L1106.8 287.8L1109.8 287.0L1112.8 286.2L1115.8 285.4L1118.8 284.6L1121.8 283.8L1124.8 282.9L1127.8 282.1L1130.8 281.3L1133.8 280.4L1136.8 279.6L1139.8 278.7L1142.8 277.9L1145.8 277.0L1148.8 276.1L1151.8 275.3L1154.8 274.4L1157.8 273.6L1160.8 272.7L1163.8 271.9L1166.8 271.0L1169.8 270.1L1172.8 269.3L1175.8 268.4L1178.8 267.6L1181.8 266.7L1184.8 265.8L1187.8 264.9L1190.8 264.0L1193.8 263.0L1196.8 262.1L1199.8 261.1L1202.8 260.2L1205.8 259.2L1208.8 258.1L1211.8 257.1L1214.8 256.0L1217.8 254.9L1220.8 253.8L1223.8 252.6L1226.8 251.4L1229.8 250.2L1232.8 249.0L1235.8 247.8L1238.8 246.5L1241.8 245.2L1244.8 244.0L1247.8 242.6L1249.5 241.9L1339.5 202.4" fill="none" stroke="#000" stroke-width="1.5" stroke-linejoin="round"/>
</g>
<g clip-path="url(#clipE)">
<rect x="150.0" y="100.0" width="1448.0" height="1052.0" fill="url(#nub)"/>
<path d="M1130.0 911.0L1220.0 868.0L1223.0 866.6L1226.0 865.2L1229.0 863.8L1232.0 862.4L1235.0 861.1L1238.0 859.8L1241.0 858.5L1244.0 857.3L1247.0 856.1L1250.0 854.9L1253.0 853.7L1256.0 852.6L1259.0 851.5L1262.0 850.4L1265.0 849.3L1268.0 848.3L1271.0 847.3L1274.0 846.4L1277.0 845.4L1280.0 844.4L1283.0 843.5L1286.0 842.6L1289.0 841.7L1292.0 840.8L1295.0 840.1L1298.0 839.3L1301.0 838.6L1304.0 838.0L1307.0 837.5L1310.0 837.0L1313.0 836.5L1316.0 836.1L1319.0 835.6L1322.0 835.2L1325.0 834.9L1328.0 834.6L1331.0 834.3L1334.0 834.1L1337.0 833.9L1340.0 833.7L1343.0 833.5L1346.0 833.4L1349.0 833.2L1352.0 833.1L1355.0 833.0L1358.0 832.9L1361.0 832.8L1364.0 832.7L1367.0 832.7L1370.0 832.7L1373.0 832.8L1376.0 832.9L1379.0 833.1L1382.0 833.4L1385.0 833.7L1388.0 834.0L1391.0 834.4L1394.0 834.8L1397.0 835.2L1400.0 835.6L1403.0 836.0L1406.0 836.3L1409.0 836.6L1412.0 836.9L1415.0 837.2L1418.0 837.5L1421.0 837.8L1424.0 838.1L1427.0 838.5L1430.0 838.8L1433.0 839.1L1436.0 839.4L1439.0 839.7L1442.0 839.9L1445.0 840.1L1448.0 840.3L1451.0 840.5L1454.0 840.6L1457.0 840.7L1460.0 840.7L1463.0 840.7L1466.0 840.7L1469.0 840.6L1472.0 840.5L1475.0 840.5L1478.0 840.4L1481.0 840.3L1484.0 840.1L1487.0 840.0L1490.0 839.8L1493.0 839.7L1496.0 839.5L1499.0 839.4L1502.0 839.2L1505.0 839.0L1508.0 838.8L1511.0 838.6L1514.0 838.4L1517.0 838.1L1520.0 837.8L1523.0 837.4L1526.0 837.0L1529.0 836.5L1532.0 836.1L1535.0 835.6L1538.0 835.0L1541.0 834.5L1544.0 833.9L1547.0 833.3L1550.0 832.7L1553.0 832.1L1556.0 831.4L1559.0 830.8L1562.0 830.1L1565.0 829.4L1568.0 828.7L1571.0 827.8L1574.0 827.0L1577.0 826.1L1580.0 825.1L1583.0 824.1L1586.0 823.1L1589.0 822.1L1592.0 821.1L1593.0 820.7L1683.0 788.9L1683.0 95.0L1130.0 95.0Z" fill="url(#clay)"/>
<path d="M1135.5 786.8L1225.5 747.5L1228.5 746.2L1231.5 744.9L1234.5 743.6L1237.5 742.2L1240.5 740.9L1243.5 739.6L1246.5 738.3L1249.5 737.0L1252.5 735.7L1255.5 734.3L1258.5 733.0L1261.5 731.7L1264.5 730.4L1267.5 729.0L1270.5 727.7L1273.5 726.4L1276.5 725.0L1279.5 723.7L1282.5 722.4L1285.5 721.0L1288.5 719.7L1291.5 718.3L1294.5 717.0L1297.5 715.7L1300.5 714.3L1303.5 713.0L1306.5 711.6L1309.5 710.3L1312.5 708.9L1315.5 707.5L1318.5 706.2L1321.5 704.8L1324.5 703.4L1327.5 702.0L1330.5 700.6L1333.5 699.2L1336.5 697.9L1339.5 696.5L1342.5 695.1L1345.5 693.7L1348.5 692.3L1351.5 691.0L1354.5 689.6L1357.5 688.3L1360.5 686.9L1363.5 685.6L1366.5 684.3L1369.5 683.0L1372.5 681.8L1375.5 680.5L1378.5 679.3L1381.5 678.0L1384.5 676.8L1387.5 675.6L1390.5 674.4L1393.5 673.2L1396.5 672.0L1399.5 670.8L1402.5 669.6L1405.5 668.4L1408.5 667.2L1411.5 666.0L1414.5 664.8L1417.5 663.6L1420.5 662.4L1423.5 661.1L1426.5 659.9L1429.5 658.7L1432.5 657.5L1435.5 656.9L1438.5 656.8L1441.5 656.6L1444.5 656.5L1447.5 656.4L1450.5 656.3L1453.5 656.1L1456.5 656.0L1459.5 655.9L1462.5 655.8L1465.5 655.7L1468.5 655.6L1471.5 655.4L1474.5 655.3L1477.5 655.2L1480.5 655.1L1483.5 655.0L1486.5 654.9L1489.5 654.8L1492.5 654.7L1495.5 654.6L1498.5 654.5L1501.5 654.4L1504.5 654.3L1507.5 654.3L1510.5 654.2L1513.5 654.1L1516.5 654.0L1519.5 653.9L1522.5 653.9L1525.5 653.8L1528.5 653.7L1531.5 653.7L1534.5 653.6L1537.5 653.6L1540.5 653.5L1543.5 653.4L1546.5 653.4L1549.5 653.3L1552.5 653.3L1555.5 653.3L1558.5 653.2L1561.5 653.2L1564.5 653.1L1567.5 653.1L1570.5 653.1L1573.5 653.1L1576.5 653.1L1579.5 653.0L1582.5 653.0L1585.5 653.0L1588.5 653.0L1591.5 653.0L1593.0 653.0L1683.0 653.0L1683.0 95.0L1135.5 95.0Z" fill="url(#dolo)"/>
<path d="M1141.0 644.2L1231.0 601.0L1234.0 599.6L1237.0 598.1L1240.0 596.7L1243.0 595.3L1246.0 593.9L1249.0 592.5L1252.0 591.1L1255.0 589.7L1258.0 588.3L1261.0 586.9L1264.0 585.5L1267.0 584.2L1270.0 582.8L1273.0 581.5L1276.0 580.1L1279.0 578.8L1282.0 577.5L1285.0 576.1L1288.0 574.8L1291.0 573.5L1294.0 572.2L1297.0 570.9L1300.0 569.7L1303.0 568.4L1306.0 567.1L1309.0 565.8L1312.0 564.6L1315.0 563.3L1318.0 562.1L1321.0 560.8L1324.0 559.6L1327.0 558.4L1330.0 557.1L1333.0 555.9L1336.0 554.7L1339.0 553.5L1342.0 552.3L1345.0 551.1L1348.0 550.0L1351.0 548.8L1354.0 547.7L1357.0 546.5L1360.0 545.4L1363.0 544.3L1366.0 543.2L1369.0 542.1L1372.0 541.0L1375.0 540.0L1378.0 538.9L1381.0 537.9L1384.0 536.9L1387.0 535.9L1390.0 534.9L1393.0 534.0L1396.0 533.0L1399.0 532.0L1402.0 531.1L1405.0 530.1L1408.0 529.2L1411.0 528.2L1414.0 527.2L1417.0 526.3L1420.0 525.3L1423.0 524.3L1426.0 523.3L1429.0 522.3L1432.0 521.4L1435.0 520.5L1438.0 520.1L1441.0 520.0L1444.0 519.9L1447.0 519.9L1450.0 519.9L1453.0 519.8L1456.0 519.8L1459.0 519.8L1462.0 519.7L1465.0 519.7L1468.0 519.7L1471.0 519.6L1474.0 519.6L1477.0 519.6L1480.0 519.6L1483.0 519.5L1486.0 519.5L1489.0 519.5L1492.0 519.5L1495.0 519.5L1498.0 519.4L1501.0 519.4L1504.0 519.4L1507.0 519.4L1510.0 519.4L1513.0 519.4L1516.0 519.3L1519.0 519.3L1522.0 519.3L1525.0 519.3L1528.0 519.3L1531.0 519.3L1534.0 519.3L1537.0 519.3L1540.0 519.3L1543.0 519.3L1546.0 519.2L1549.0 519.2L1552.0 519.2L1555.0 519.2L1558.0 519.2L1561.0 519.2L1564.0 519.2L1567.0 519.2L1570.0 519.2L1573.0 519.2L1576.0 519.2L1579.0 519.2L1582.0 519.2L1585.0 519.2L1588.0 519.2L1591.0 519.2L1593.0 519.2L1683.0 519.2L1683.0 95.0L1141.0 95.0Z" fill="url(#clay)"/>
<path d="M1146.0 532.5L1236.0 493.9L1239.0 492.6L1242.0 491.3L1245.0 490.1L1248.0 488.8L1251.0 487.5L1254.0 486.3L1257.0 485.0L1260.0 483.8L1263.0 482.6L1266.0 481.3L1269.0 480.1L1272.0 478.9L1275.0 477.6L1278.0 476.4L1281.0 475.1L1284.0 473.9L1287.0 472.6L1290.0 471.4L1293.0 470.3L1296.0 469.2L1299.0 468.2L1302.0 467.2L1305.0 466.3L1308.0 465.4L1311.0 464.5L1314.0 463.7L1317.0 462.9L1320.0 462.1L1323.0 461.3L1326.0 460.6L1329.0 459.9L1332.0 459.2L1335.0 458.5L1338.0 457.8L1341.0 457.2L1344.0 456.5L1347.0 455.9L1350.0 455.2L1353.0 454.6L1356.0 454.0L1359.0 453.5L1362.0 453.0L1365.0 452.5L1368.0 452.1L1371.0 451.8L1374.0 451.4L1377.0 451.1L1380.0 450.8L1383.0 450.5L1386.0 450.1L1389.0 449.8L1392.0 449.5L1395.0 449.3L1398.0 449.0L1401.0 448.7L1404.0 448.4L1407.0 448.2L1410.0 447.9L1413.0 447.7L1416.0 447.5L1419.0 447.3L1422.0 447.1L1425.0 446.9L1428.0 446.7L1431.0 446.6L1434.0 446.4L1437.0 446.3L1440.0 446.2L1443.0 446.1L1446.0 446.0L1449.0 445.9L1452.0 445.9L1455.0 445.8L1458.0 445.7L1461.0 445.7L1464.0 445.6L1467.0 445.6L1470.0 445.5L1473.0 445.4L1476.0 445.4L1479.0 445.3L1482.0 445.3L1485.0 445.2L1488.0 445.2L1491.0 445.1L1494.0 445.1L1497.0 445.0L1500.0 445.0L1503.0 445.0L1506.0 444.9L1509.0 444.9L1512.0 444.8L1515.0 444.8L1518.0 444.8L1521.0 444.7L1524.0 444.7L1527.0 444.7L1530.0 444.6L1533.0 444.6L1536.0 444.6L1539.0 444.5L1542.0 444.5L1545.0 444.5L1548.0 444.5L1551.0 444.4L1554.0 444.4L1557.0 444.4L1560.0 444.4L1563.0 444.4L1566.0 444.4L1569.0 444.3L1572.0 444.3L1575.0 444.3L1578.0 444.3L1581.0 444.3L1584.0 444.3L1587.0 444.3L1590.0 444.3L1593.0 444.3L1683.0 444.3L1683.0 95.0L1146.0 95.0Z" fill="url(#inter)"/>
<path d="M1152.3 393.6L1242.3 376.0L1245.3 375.4L1248.3 374.8L1251.3 374.2L1254.3 373.7L1257.3 373.1L1260.3 372.5L1263.3 372.0L1266.3 371.4L1269.3 370.8L1272.3 370.3L1275.3 369.7L1278.3 369.1L1281.3 368.6L1284.3 368.1L1287.3 367.5L1290.3 367.0L1293.3 366.4L1296.3 365.9L1299.3 365.4L1302.3 364.8L1305.3 364.3L1308.3 363.7L1311.3 363.2L1314.3 362.6L1317.3 362.1L1320.3 361.5L1323.3 361.0L1326.3 360.4L1329.3 359.9L1332.3 359.3L1335.3 358.8L1338.3 358.3L1341.3 357.8L1344.3 357.3L1347.3 356.8L1350.3 356.3L1353.3 355.9L1356.3 355.4L1359.3 355.0L1362.3 354.6L1365.3 354.2L1368.3 353.9L1371.3 353.5L1374.3 353.2L1377.3 352.9L1380.3 352.6L1383.3 352.3L1386.3 352.0L1389.3 351.7L1392.3 351.4L1395.3 351.1L1398.3 350.8L1401.3 350.6L1404.3 350.3L1407.3 350.1L1410.3 349.9L1413.3 349.7L1416.3 349.5L1419.3 349.3L1422.3 349.1L1425.3 348.9L1428.3 348.8L1431.3 348.6L1434.3 348.5L1437.3 348.4L1440.3 348.2L1443.3 348.1L1446.3 348.0L1449.3 347.9L1452.3 347.8L1455.3 347.7L1458.3 347.6L1461.3 347.5L1464.3 347.4L1467.3 347.3L1470.3 347.3L1473.3 347.2L1476.3 347.1L1479.3 347.0L1482.3 346.9L1485.3 346.9L1488.3 346.8L1491.3 346.7L1494.3 346.6L1497.3 346.6L1500.3 346.5L1503.3 346.4L1506.3 346.3L1509.3 346.3L1512.3 346.2L1515.3 346.1L1518.3 346.1L1521.3 346.0L1524.3 345.9L1527.3 345.9L1530.3 345.8L1533.3 345.7L1536.3 345.7L1539.3 345.6L1542.3 345.5L1545.3 345.5L1548.3 345.4L1551.3 345.4L1554.3 345.3L1557.3 345.3L1560.3 345.2L1563.3 345.2L1566.3 345.1L1569.3 345.0L1572.3 345.0L1575.3 345.0L1578.3 344.9L1581.3 344.9L1584.3 344.8L1587.3 344.8L1590.3 344.7L1593.0 344.7L1683.0 343.5L1683.0 95.0L1152.3 95.0Z" fill="url(#clay)"/>
<path d="M1153.5 355.8L1243.5 335.8L1246.5 335.1L1249.5 334.5L1252.5 333.8L1255.5 333.2L1258.5 332.5L1261.5 331.9L1264.5 331.3L1267.5 330.8L1270.5 330.2L1273.5 329.7L1276.5 329.2L1279.5 328.7L1282.5 328.3L1285.5 327.9L1288.5 327.5L1291.5 327.2L1294.5 327.0L1297.5 326.7L1300.5 326.5L1303.5 326.4L1306.5 326.2L1309.5 326.0L1312.5 325.9L1315.5 325.8L1318.5 325.6L1321.5 325.5L1324.5 325.4L1327.5 325.3L1330.5 325.1L1333.5 325.0L1336.5 324.9L1339.5 324.8L1342.5 324.8L1345.5 324.7L1348.5 324.6L1351.5 324.5L1354.5 324.4L1357.5 324.3L1360.5 324.3L1363.5 324.2L1366.5 324.1L1369.5 324.0L1372.5 323.9L1375.5 323.9L1378.5 323.8L1381.5 323.7L1384.5 323.6L1387.5 323.6L1390.5 323.5L1393.5 323.5L1396.5 323.4L1399.5 323.3L1402.5 323.3L1405.5 323.2L1408.5 323.2L1411.5 323.1L1414.5 323.1L1417.5 323.0L1420.5 322.9L1423.5 322.9L1426.5 322.8L1429.5 322.7L1432.5 322.6L1435.5 322.5L1438.5 322.5L1441.5 322.4L1444.5 322.3L1447.5 322.2L1450.5 322.1L1453.5 322.0L1456.5 322.0L1459.5 321.9L1462.5 321.8L1465.5 321.7L1468.5 321.6L1471.5 321.5L1474.5 321.4L1477.5 321.3L1480.5 321.2L1483.5 321.1L1486.5 321.0L1489.5 320.9L1492.5 320.8L1495.5 320.7L1498.5 320.6L1501.5 320.5L1504.5 320.4L1507.5 320.3L1510.5 320.2L1513.5 320.1L1516.5 319.9L1519.5 319.8L1522.5 319.7L1525.5 319.6L1528.5 319.5L1531.5 319.4L1534.5 319.3L1537.5 319.1L1540.5 319.0L1543.5 318.9L1546.5 318.8L1549.5 318.6L1552.5 318.5L1555.5 318.4L1558.5 318.3L1561.5 318.1L1564.5 318.0L1567.5 317.9L1570.5 317.7L1573.5 317.6L1576.5 317.5L1579.5 317.3L1582.5 317.2L1585.5 317.1L1588.5 316.9L1591.5 316.8L1593.0 316.7L1683.0 312.4L1683.0 95.0L1153.5 95.0Z" fill="url(#lime)"/>
<path d="M1160.0 261.5L1250.0 227.0L1253.0 225.9L1256.0 224.7L1259.0 223.6L1262.0 222.5L1265.0 221.3L1268.0 220.2L1271.0 219.2L1274.0 218.1L1277.0 217.0L1280.0 216.0L1283.0 214.9L1286.0 213.9L1289.0 212.9L1292.0 211.9L1295.0 211.0L1298.0 210.0L1301.0 209.1L1304.0 208.1L1307.0 207.2L1310.0 206.3L1313.0 205.4L1316.0 204.6L1319.0 203.7L1322.0 202.8L1325.0 202.0L1328.0 201.1L1331.0 200.3L1334.0 199.5L1337.0 198.7L1340.0 197.8L1343.0 197.0L1346.0 196.2L1349.0 195.4L1352.0 194.6L1355.0 193.8L1358.0 193.1L1361.0 192.3L1364.0 191.5L1367.0 190.7L1370.0 189.9L1373.0 189.2L1376.0 188.4L1379.0 187.6L1382.0 186.8L1385.0 185.9L1388.0 185.1L1391.0 184.3L1394.0 183.5L1397.0 182.7L1400.0 181.9L1403.0 181.2L1406.0 180.4L1409.0 179.7L1412.0 179.0L1415.0 178.3L1418.0 177.7L1421.0 177.0L1424.0 176.5L1427.0 175.9L1430.0 175.5L1433.0 175.0L1436.0 174.4L1439.0 174.0L1442.0 173.5L1445.0 173.2L1448.0 173.0L1451.0 173.0L1454.0 173.0L1457.0 173.0L1460.0 173.0L1463.0 173.0L1466.0 173.0L1469.0 173.0L1472.0 173.0L1475.0 173.0L1478.0 173.0L1481.0 173.0L1484.0 173.0L1487.0 173.0L1490.0 173.0L1493.0 173.0L1496.0 173.0L1499.0 173.0L1502.0 173.0L1505.0 173.0L1508.0 173.0L1511.0 173.0L1514.0 173.0L1517.0 173.0L1520.0 173.0L1523.0 173.0L1526.0 173.0L1529.0 173.0L1532.0 173.0L1535.0 173.0L1538.0 173.0L1541.0 173.0L1544.0 173.0L1547.0 173.0L1550.0 173.0L1553.0 173.0L1556.0 173.0L1559.0 173.0L1562.0 173.0L1565.0 173.0L1568.0 173.0L1571.0 173.0L1574.0 173.0L1577.0 173.0L1580.0 173.0L1583.0 173.0L1586.0 173.0L1589.0 173.0L1592.0 173.0L1593.0 173.0L1683.0 173.0L1683.0 95.0L1160.0 95.0Z" fill="url(#surf)"/>
<path d="M1130.0 911.0L1220.0 868.0L1223.0 866.6L1226.0 865.2L1229.0 863.8L1232.0 862.4L1235.0 861.1L1238.0 859.8L1241.0 858.5L1244.0 857.3L1247.0 856.1L1250.0 854.9L1253.0 853.7L1256.0 852.6L1259.0 851.5L1262.0 850.4L1265.0 849.3L1268.0 848.3L1271.0 847.3L1274.0 846.4L1277.0 845.4L1280.0 844.4L1283.0 843.5L1286.0 842.6L1289.0 841.7L1292.0 840.8L1295.0 840.1L1298.0 839.3L1301.0 838.6L1304.0 838.0L1307.0 837.5L1310.0 837.0L1313.0 836.5L1316.0 836.1L1319.0 835.6L1322.0 835.2L1325.0 834.9L1328.0 834.6L1331.0 834.3L1334.0 834.1L1337.0 833.9L1340.0 833.7L1343.0 833.5L1346.0 833.4L1349.0 833.2L1352.0 833.1L1355.0 833.0L1358.0 832.9L1361.0 832.8L1364.0 832.7L1367.0 832.7L1370.0 832.7L1373.0 832.8L1376.0 832.9L1379.0 833.1L1382.0 833.4L1385.0 833.7L1388.0 834.0L1391.0 834.4L1394.0 834.8L1397.0 835.2L1400.0 835.6L1403.0 836.0L1406.0 836.3L1409.0 836.6L1412.0 836.9L1415.0 837.2L1418.0 837.5L1421.0 837.8L1424.0 838.1L1427.0 838.5L1430.0 838.8L1433.0 839.1L1436.0 839.4L1439.0 839.7L1442.0 839.9L1445.0 840.1L1448.0 840.3L1451.0 840.5L1454.0 840.6L1457.0 840.7L1460.0 840.7L1463.0 840.7L1466.0 840.7L1469.0 840.6L1472.0 840.5L1475.0 840.5L1478.0 840.4L1481.0 840.3L1484.0 840.1L1487.0 840.0L1490.0 839.8L1493.0 839.7L1496.0 839.5L1499.0 839.4L1502.0 839.2L1505.0 839.0L1508.0 838.8L1511.0 838.6L1514.0 838.4L1517.0 838.1L1520.0 837.8L1523.0 837.4L1526.0 837.0L1529.0 836.5L1532.0 836.1L1535.0 835.6L1538.0 835.0L1541.0 834.5L1544.0 833.9L1547.0 833.3L1550.0 832.7L1553.0 832.1L1556.0 831.4L1559.0 830.8L1562.0 830.1L1565.0 829.4L1568.0 828.7L1571.0 827.8L1574.0 827.0L1577.0 826.1L1580.0 825.1L1583.0 824.1L1586.0 823.1L1589.0 822.1L1592.0 821.1L1593.0 820.7L1683.0 788.9" fill="none" stroke="#000" stroke-width="1.5" stroke-linejoin="round"/>
<path d="M1135.5 786.8L1225.5 747.5L1228.5 746.2L1231.5 744.9L1234.5 743.6L1237.5 742.2L1240.5 740.9L1243.5 739.6L1246.5 738.3L1249.5 737.0L1252.5 735.7L1255.5 734.3L1258.5 733.0L1261.5 731.7L1264.5 730.4L1267.5 729.0L1270.5 727.7L1273.5 726.4L1276.5 725.0L1279.5 723.7L1282.5 722.4L1285.5 721.0L1288.5 719.7L1291.5 718.3L1294.5 717.0L1297.5 715.7L1300.5 714.3L1303.5 713.0L1306.5 711.6L1309.5 710.3L1312.5 708.9L1315.5 707.5L1318.5 706.2L1321.5 704.8L1324.5 703.4L1327.5 702.0L1330.5 700.6L1333.5 699.2L1336.5 697.9L1339.5 696.5L1342.5 695.1L1345.5 693.7L1348.5 692.3L1351.5 691.0L1354.5 689.6L1357.5 688.3L1360.5 686.9L1363.5 685.6L1366.5 684.3L1369.5 683.0L1372.5 681.8L1375.5 680.5L1378.5 679.3L1381.5 678.0L1384.5 676.8L1387.5 675.6L1390.5 674.4L1393.5 673.2L1396.5 672.0L1399.5 670.8L1402.5 669.6L1405.5 668.4L1408.5 667.2L1411.5 666.0L1414.5 664.8L1417.5 663.6L1420.5 662.4L1423.5 661.1L1426.5 659.9L1429.5 658.7L1432.5 657.5L1435.5 656.9L1438.5 656.8L1441.5 656.6L1444.5 656.5L1447.5 656.4L1450.5 656.3L1453.5 656.1L1456.5 656.0L1459.5 655.9L1462.5 655.8L1465.5 655.7L1468.5 655.6L1471.5 655.4L1474.5 655.3L1477.5 655.2L1480.5 655.1L1483.5 655.0L1486.5 654.9L1489.5 654.8L1492.5 654.7L1495.5 654.6L1498.5 654.5L1501.5 654.4L1504.5 654.3L1507.5 654.3L1510.5 654.2L1513.5 654.1L1516.5 654.0L1519.5 653.9L1522.5 653.9L1525.5 653.8L1528.5 653.7L1531.5 653.7L1534.5 653.6L1537.5 653.6L1540.5 653.5L1543.5 653.4L1546.5 653.4L1549.5 653.3L1552.5 653.3L1555.5 653.3L1558.5 653.2L1561.5 653.2L1564.5 653.1L1567.5 653.1L1570.5 653.1L1573.5 653.1L1576.5 653.1L1579.5 653.0L1582.5 653.0L1585.5 653.0L1588.5 653.0L1591.5 653.0L1593.0 653.0L1683.0 653.0" fill="none" stroke="#000" stroke-width="1.5" stroke-linejoin="round"/>
<path d="M1141.0 644.2L1231.0 601.0L1234.0 599.6L1237.0 598.1L1240.0 596.7L1243.0 595.3L1246.0 593.9L1249.0 592.5L1252.0 591.1L1255.0 589.7L1258.0 588.3L1261.0 586.9L1264.0 585.5L1267.0 584.2L1270.0 582.8L1273.0 581.5L1276.0 580.1L1279.0 578.8L1282.0 577.5L1285.0 576.1L1288.0 574.8L1291.0 573.5L1294.0 572.2L1297.0 570.9L1300.0 569.7L1303.0 568.4L1306.0 567.1L1309.0 565.8L1312.0 564.6L1315.0 563.3L1318.0 562.1L1321.0 560.8L1324.0 559.6L1327.0 558.4L1330.0 557.1L1333.0 555.9L1336.0 554.7L1339.0 553.5L1342.0 552.3L1345.0 551.1L1348.0 550.0L1351.0 548.8L1354.0 547.7L1357.0 546.5L1360.0 545.4L1363.0 544.3L1366.0 543.2L1369.0 542.1L1372.0 541.0L1375.0 540.0L1378.0 538.9L1381.0 537.9L1384.0 536.9L1387.0 535.9L1390.0 534.9L1393.0 534.0L1396.0 533.0L1399.0 532.0L1402.0 531.1L1405.0 530.1L1408.0 529.2L1411.0 528.2L1414.0 527.2L1417.0 526.3L1420.0 525.3L1423.0 524.3L1426.0 523.3L1429.0 522.3L1432.0 521.4L1435.0 520.5L1438.0 520.1L1441.0 520.0L1444.0 519.9L1447.0 519.9L1450.0 519.9L1453.0 519.8L1456.0 519.8L1459.0 519.8L1462.0 519.7L1465.0 519.7L1468.0 519.7L1471.0 519.6L1474.0 519.6L1477.0 519.6L1480.0 519.6L1483.0 519.5L1486.0 519.5L1489.0 519.5L1492.0 519.5L1495.0 519.5L1498.0 519.4L1501.0 519.4L1504.0 519.4L1507.0 519.4L1510.0 519.4L1513.0 519.4L1516.0 519.3L1519.0 519.3L1522.0 519.3L1525.0 519.3L1528.0 519.3L1531.0 519.3L1534.0 519.3L1537.0 519.3L1540.0 519.3L1543.0 519.3L1546.0 519.2L1549.0 519.2L1552.0 519.2L1555.0 519.2L1558.0 519.2L1561.0 519.2L1564.0 519.2L1567.0 519.2L1570.0 519.2L1573.0 519.2L1576.0 519.2L1579.0 519.2L1582.0 519.2L1585.0 519.2L1588.0 519.2L1591.0 519.2L1593.0 519.2L1683.0 519.2" fill="none" stroke="#000" stroke-width="1.5" stroke-linejoin="round"/>
<path d="M1146.0 532.5L1236.0 493.9L1239.0 492.6L1242.0 491.3L1245.0 490.1L1248.0 488.8L1251.0 487.5L1254.0 486.3L1257.0 485.0L1260.0 483.8L1263.0 482.6L1266.0 481.3L1269.0 480.1L1272.0 478.9L1275.0 477.6L1278.0 476.4L1281.0 475.1L1284.0 473.9L1287.0 472.6L1290.0 471.4L1293.0 470.3L1296.0 469.2L1299.0 468.2L1302.0 467.2L1305.0 466.3L1308.0 465.4L1311.0 464.5L1314.0 463.7L1317.0 462.9L1320.0 462.1L1323.0 461.3L1326.0 460.6L1329.0 459.9L1332.0 459.2L1335.0 458.5L1338.0 457.8L1341.0 457.2L1344.0 456.5L1347.0 455.9L1350.0 455.2L1353.0 454.6L1356.0 454.0L1359.0 453.5L1362.0 453.0L1365.0 452.5L1368.0 452.1L1371.0 451.8L1374.0 451.4L1377.0 451.1L1380.0 450.8L1383.0 450.5L1386.0 450.1L1389.0 449.8L1392.0 449.5L1395.0 449.3L1398.0 449.0L1401.0 448.7L1404.0 448.4L1407.0 448.2L1410.0 447.9L1413.0 447.7L1416.0 447.5L1419.0 447.3L1422.0 447.1L1425.0 446.9L1428.0 446.7L1431.0 446.6L1434.0 446.4L1437.0 446.3L1440.0 446.2L1443.0 446.1L1446.0 446.0L1449.0 445.9L1452.0 445.9L1455.0 445.8L1458.0 445.7L1461.0 445.7L1464.0 445.6L1467.0 445.6L1470.0 445.5L1473.0 445.4L1476.0 445.4L1479.0 445.3L1482.0 445.3L1485.0 445.2L1488.0 445.2L1491.0 445.1L1494.0 445.1L1497.0 445.0L1500.0 445.0L1503.0 445.0L1506.0 444.9L1509.0 444.9L1512.0 444.8L1515.0 444.8L1518.0 444.8L1521.0 444.7L1524.0 444.7L1527.0 444.7L1530.0 444.6L1533.0 444.6L1536.0 444.6L1539.0 444.5L1542.0 444.5L1545.0 444.5L1548.0 444.5L1551.0 444.4L1554.0 444.4L1557.0 444.4L1560.0 444.4L1563.0 444.4L1566.0 444.4L1569.0 444.3L1572.0 444.3L1575.0 444.3L1578.0 444.3L1581.0 444.3L1584.0 444.3L1587.0 444.3L1590.0 444.3L1593.0 444.3L1683.0 444.3" fill="none" stroke="#000" stroke-width="1.5" stroke-linejoin="round"/>
<path d="M1152.3 393.6L1242.3 376.0L1245.3 375.4L1248.3 374.8L1251.3 374.2L1254.3 373.7L1257.3 373.1L1260.3 372.5L1263.3 372.0L1266.3 371.4L1269.3 370.8L1272.3 370.3L1275.3 369.7L1278.3 369.1L1281.3 368.6L1284.3 368.1L1287.3 367.5L1290.3 367.0L1293.3 366.4L1296.3 365.9L1299.3 365.4L1302.3 364.8L1305.3 364.3L1308.3 363.7L1311.3 363.2L1314.3 362.6L1317.3 362.1L1320.3 361.5L1323.3 361.0L1326.3 360.4L1329.3 359.9L1332.3 359.3L1335.3 358.8L1338.3 358.3L1341.3 357.8L1344.3 357.3L1347.3 356.8L1350.3 356.3L1353.3 355.9L1356.3 355.4L1359.3 355.0L1362.3 354.6L1365.3 354.2L1368.3 353.9L1371.3 353.5L1374.3 353.2L1377.3 352.9L1380.3 352.6L1383.3 352.3L1386.3 352.0L1389.3 351.7L1392.3 351.4L1395.3 351.1L1398.3 350.8L1401.3 350.6L1404.3 350.3L1407.3 350.1L1410.3 349.9L1413.3 349.7L1416.3 349.5L1419.3 349.3L1422.3 349.1L1425.3 348.9L1428.3 348.8L1431.3 348.6L1434.3 348.5L1437.3 348.4L1440.3 348.2L1443.3 348.1L1446.3 348.0L1449.3 347.9L1452.3 347.8L1455.3 347.7L1458.3 347.6L1461.3 347.5L1464.3 347.4L1467.3 347.3L1470.3 347.3L1473.3 347.2L1476.3 347.1L1479.3 347.0L1482.3 346.9L1485.3 346.9L1488.3 346.8L1491.3 346.7L1494.3 346.6L1497.3 346.6L1500.3 346.5L1503.3 346.4L1506.3 346.3L1509.3 346.3L1512.3 346.2L1515.3 346.1L1518.3 346.1L1521.3 346.0L1524.3 345.9L1527.3 345.9L1530.3 345.8L1533.3 345.7L1536.3 345.7L1539.3 345.6L1542.3 345.5L1545.3 345.5L1548.3 345.4L1551.3 345.4L1554.3 345.3L1557.3 345.3L1560.3 345.2L1563.3 345.2L1566.3 345.1L1569.3 345.0L1572.3 345.0L1575.3 345.0L1578.3 344.9L1581.3 344.9L1584.3 344.8L1587.3 344.8L1590.3 344.7L1593.0 344.7L1683.0 343.5" fill="none" stroke="#000" stroke-width="1.5" stroke-linejoin="round"/>
<path d="M1153.5 355.8L1243.5 335.8L1246.5 335.1L1249.5 334.5L1252.5 333.8L1255.5 333.2L1258.5 332.5L1261.5 331.9L1264.5 331.3L1267.5 330.8L1270.5 330.2L1273.5 329.7L1276.5 329.2L1279.5 328.7L1282.5 328.3L1285.5 327.9L1288.5 327.5L1291.5 327.2L1294.5 327.0L1297.5 326.7L1300.5 326.5L1303.5 326.4L1306.5 326.2L1309.5 326.0L1312.5 325.9L1315.5 325.8L1318.5 325.6L1321.5 325.5L1324.5 325.4L1327.5 325.3L1330.5 325.1L1333.5 325.0L1336.5 324.9L1339.5 324.8L1342.5 324.8L1345.5 324.7L1348.5 324.6L1351.5 324.5L1354.5 324.4L1357.5 324.3L1360.5 324.3L1363.5 324.2L1366.5 324.1L1369.5 324.0L1372.5 323.9L1375.5 323.9L1378.5 323.8L1381.5 323.7L1384.5 323.6L1387.5 323.6L1390.5 323.5L1393.5 323.5L1396.5 323.4L1399.5 323.3L1402.5 323.3L1405.5 323.2L1408.5 323.2L1411.5 323.1L1414.5 323.1L1417.5 323.0L1420.5 322.9L1423.5 322.9L1426.5 322.8L1429.5 322.7L1432.5 322.6L1435.5 322.5L1438.5 322.5L1441.5 322.4L1444.5 322.3L1447.5 322.2L1450.5 322.1L1453.5 322.0L1456.5 322.0L1459.5 321.9L1462.5 321.8L1465.5 321.7L1468.5 321.6L1471.5 321.5L1474.5 321.4L1477.5 321.3L1480.5 321.2L1483.5 321.1L1486.5 321.0L1489.5 320.9L1492.5 320.8L1495.5 320.7L1498.5 320.6L1501.5 320.5L1504.5 320.4L1507.5 320.3L1510.5 320.2L1513.5 320.1L1516.5 319.9L1519.5 319.8L1522.5 319.7L1525.5 319.6L1528.5 319.5L1531.5 319.4L1534.5 319.3L1537.5 319.1L1540.5 319.0L1543.5 318.9L1546.5 318.8L1549.5 318.6L1552.5 318.5L1555.5 318.4L1558.5 318.3L1561.5 318.1L1564.5 318.0L1567.5 317.9L1570.5 317.7L1573.5 317.6L1576.5 317.5L1579.5 317.3L1582.5 317.2L1585.5 317.1L1588.5 316.9L1591.5 316.8L1593.0 316.7L1683.0 312.4" fill="none" stroke="#000" stroke-width="1.5" stroke-linejoin="round"/>
<path d="M1160.0 261.5L1250.0 227.0L1253.0 225.9L1256.0 224.7L1259.0 223.6L1262.0 222.5L1265.0 221.3L1268.0 220.2L1271.0 219.2L1274.0 218.1L1277.0 217.0L1280.0 216.0L1283.0 214.9L1286.0 213.9L1289.0 212.9L1292.0 211.9L1295.0 211.0L1298.0 210.0L1301.0 209.1L1304.0 208.1L1307.0 207.2L1310.0 206.3L1313.0 205.4L1316.0 204.6L1319.0 203.7L1322.0 202.8L1325.0 202.0L1328.0 201.1L1331.0 200.3L1334.0 199.5L1337.0 198.7L1340.0 197.8L1343.0 197.0L1346.0 196.2L1349.0 195.4L1352.0 194.6L1355.0 193.8L1358.0 193.1L1361.0 192.3L1364.0 191.5L1367.0 190.7L1370.0 189.9L1373.0 189.2L1376.0 188.4L1379.0 187.6L1382.0 186.8L1385.0 185.9L1388.0 185.1L1391.0 184.3L1394.0 183.5L1397.0 182.7L1400.0 181.9L1403.0 181.2L1406.0 180.4L1409.0 179.7L1412.0 179.0L1415.0 178.3L1418.0 177.7L1421.0 177.0L1424.0 176.5L1427.0 175.9L1430.0 175.5L1433.0 175.0L1436.0 174.4L1439.0 174.0L1442.0 173.5L1445.0 173.2L1448.0 173.0L1451.0 173.0L1454.0 173.0L1457.0 173.0L1460.0 173.0L1463.0 173.0L1466.0 173.0L1469.0 173.0L1472.0 173.0L1475.0 173.0L1478.0 173.0L1481.0 173.0L1484.0 173.0L1487.0 173.0L1490.0 173.0L1493.0 173.0L1496.0 173.0L1499.0 173.0L1502.0 173.0L1505.0 173.0L1508.0 173.0L1511.0 173.0L1514.0 173.0L1517.0 173.0L1520.0 173.0L1523.0 173.0L1526.0 173.0L1529.0 173.0L1532.0 173.0L1535.0 173.0L1538.0 173.0L1541.0 173.0L1544.0 173.0L1547.0 173.0L1550.0 173.0L1553.0 173.0L1556.0 173.0L1559.0 173.0L1562.0 173.0L1565.0 173.0L1568.0 173.0L1571.0 173.0L1574.0 173.0L1577.0 173.0L1580.0 173.0L1583.0 173.0L1586.0 173.0L1589.0 173.0L1592.0 173.0L1593.0 173.0L1683.0 173.0" fill="none" stroke="#000" stroke-width="1.5" stroke-linejoin="round"/>
</g>
<path d="M155.0 261.5L158.0 261.1L161.0 260.8L164.0 260.5L167.0 260.2L170.0 260.0L173.0 259.9L176.0 259.7L179.0 259.6L182.0 259.6L185.0 259.5L188.0 259.5L191.0 259.5L194.0 259.6L197.0 259.7L200.0 260.0L203.0 260.2L206.0 260.6L209.0 260.9L212.0 261.3L215.0 261.7L218.0 262.2L221.0 262.6L224.0 263.0L227.0 263.4L230.0 263.9L233.0 264.4L236.0 264.9L239.0 265.4L242.0 266.0L245.0 266.6L248.0 267.2L251.0 267.8L254.0 268.5L254.0 268.5L257.0 268.8L260.0 269.0L263.0 269.3L266.0 269.6L269.0 269.8L272.0 270.1L275.0 270.4L278.0 270.6L281.0 270.9L284.0 271.1L287.0 271.3L290.0 271.6L293.0 271.8L296.0 272.0L299.0 272.2L302.0 272.5L305.0 272.7L308.0 272.9L311.0 273.1L314.0 273.3L317.0 273.5L320.0 273.7L323.0 273.9L326.0 274.1L329.0 274.3L332.0 274.5L335.0 274.7L338.0 274.9L341.0 275.1L344.0 275.2L347.0 275.4L350.0 275.6L353.0 275.7L356.0 275.9L359.0 276.0L362.0 276.1L365.0 276.2L368.0 276.3L371.0 276.3L374.0 276.4L377.0 276.4L380.0 276.5L383.0 276.5L386.0 276.6L389.0 276.6L392.0 276.7L395.0 276.7L398.0 276.8L401.0 276.8L404.0 276.8L407.0 276.9L410.0 276.9L413.0 276.9L416.0 277.0L419.0 277.0L422.0 277.0L425.0 277.0L428.0 277.0L431.0 277.0L434.0 277.0L437.0 277.0L440.0 276.9L443.0 276.9L446.0 276.8L449.0 276.7L452.0 276.7L455.0 276.6L458.0 276.5L461.0 276.4L464.0 276.3L467.0 276.1L470.0 276.0L473.0 275.7L476.0 275.5L479.0 275.2L482.0 274.9L485.0 274.6L488.0 274.2L491.0 273.9L494.0 273.6L497.0 273.3L500.0 273.0L503.0 272.7L506.0 272.5L509.0 272.2L512.0 271.9L515.0 271.7L518.0 271.4L521.0 271.2L524.0 270.9L527.0 270.7L530.0 270.4L533.0 270.1L536.0 269.8L539.0 269.6L542.0 269.3L545.0 269.0L548.0 268.7L551.0 268.3L554.0 268.0L557.0 267.6L560.0 267.3L563.0 266.9L566.0 266.5L569.0 266.1L572.0 265.7L575.0 265.3L578.0 264.9L581.0 264.5L584.0 264.1L587.0 263.7L590.0 263.3L593.0 262.9L596.0 262.5L599.0 262.1L602.0 261.8L605.0 261.4L608.0 261.0L611.0 260.7L614.0 260.3L617.0 260.0L620.0 259.6L623.0 259.2L626.0 258.9L629.0 258.5L632.0 258.2L635.0 257.8L638.0 257.5L641.0 257.2L644.0 256.8L647.0 256.5L650.0 256.1L653.0 255.8L656.0 255.5L659.0 255.1L662.0 254.8L665.0 254.5L665.8 254.4L665.8 254.4L668.8 254.1L671.8 253.8L674.8 253.5L677.8 253.2L680.8 252.9L683.8 252.6L686.8 252.3L689.8 252.0L692.8 251.7L695.8 251.4L698.8 251.1L701.8 250.8L704.8 250.5L707.8 250.2L710.8 249.8L713.8 249.5L716.8 249.1L719.8 248.8L722.8 248.6L725.8 248.4L728.8 248.2L731.8 248.2L734.8 248.2L737.8 248.2L740.8 248.2L743.8 248.2L746.8 248.2L749.8 248.2L752.8 248.2L755.8 248.2L758.8 248.2L761.8 248.2L764.8 248.2L767.8 248.2L770.8 248.2L773.8 248.2L776.8 248.2L779.8 248.2L782.8 248.2L785.8 248.2L788.8 248.2L791.8 248.2L794.8 248.2L797.8 248.2L800.8 248.2L803.8 248.2L806.8 248.2L809.8 248.2L812.8 248.2L815.8 248.2L818.8 248.2L821.8 248.2L824.8 248.2L827.8 248.2L830.8 248.2L833.8 248.2L836.8 248.2L839.8 248.2L842.8 248.2L845.8 248.2L848.8 248.2L851.8 248.2L854.8 248.2L857.8 248.2L860.8 248.2L863.8 248.2L866.8 248.2L869.8 248.2L872.8 248.2L875.8 248.2L878.8 248.2L881.8 248.2L884.8 248.2L887.8 248.2L890.8 248.2L893.8 248.2L896.8 248.2L899.8 248.2L902.8 248.2L905.8 248.2L908.8 248.2L911.8 248.2L914.8 248.2L917.8 248.2L920.8 248.2L923.8 248.2L926.8 248.2L929.8 248.2L932.8 248.2L935.8 248.2L938.8 248.2L941.8 248.2L944.8 248.2L947.8 248.2L950.8 248.2L953.8 248.2L956.8 248.2L959.8 248.3L962.8 248.3L965.8 248.3L968.8 248.3L971.8 248.3L974.8 248.3L977.8 248.3L980.8 248.3L983.8 248.3L986.8 248.3L989.8 248.3L992.8 248.3L995.8 248.3L998.8 248.3L1001.8 248.3L1004.8 248.3L1007.8 248.3L1010.8 248.3L1013.8 248.3L1016.8 248.3L1017.8 248.3L1017.8 248.3L1020.8 247.8L1023.8 247.3L1026.8 246.8L1029.8 246.3L1032.8 245.8L1035.8 245.3L1038.8 244.9L1041.8 244.4L1044.8 243.9L1047.8 243.4L1050.8 242.9L1053.8 242.5L1056.8 242.0L1059.8 241.5L1062.8 241.1L1065.8 240.6L1068.8 240.2L1071.8 239.8L1074.8 239.3L1077.8 238.9L1080.8 238.5L1083.8 238.1L1086.8 237.7L1089.8 237.3L1092.8 236.8L1095.8 236.4L1098.8 235.9L1101.8 235.4L1104.8 234.9L1107.8 234.4L1110.8 233.8L1113.8 233.2L1116.8 232.5L1119.8 231.9L1122.8 231.1L1125.8 230.4L1128.8 229.6L1131.8 228.9L1134.8 228.1L1137.8 227.3L1140.8 226.5L1143.8 225.6L1146.8 224.8L1149.8 224.1L1152.8 223.3L1155.8 222.5L1158.8 221.7L1161.8 220.9L1164.8 220.1L1167.8 219.2L1170.8 218.4L1173.8 217.6L1176.8 216.7L1179.8 215.9L1182.8 215.0L1185.8 214.1L1188.8 213.2L1191.8 212.3L1194.8 211.4L1197.8 210.5L1200.8 209.6L1203.8 208.6L1206.8 207.7L1209.8 206.7L1212.8 205.7L1215.8 204.7L1218.8 203.7L1221.8 202.7L1224.8 201.7L1227.8 200.7L1230.8 199.7L1233.8 198.6L1236.8 197.6L1239.8 196.5L1242.8 195.4L1245.8 194.4L1248.8 193.3L1249.5 193.0L1250.0 194.0L1253.0 193.3L1256.0 192.5L1259.0 191.8L1262.0 191.1L1265.0 190.3L1268.0 189.6L1271.0 188.9L1274.0 188.2L1277.0 187.5L1280.0 186.9L1283.0 186.2L1286.0 185.5L1289.0 184.9L1292.0 184.2L1295.0 183.6L1298.0 183.0L1301.0 182.4L1304.0 181.8L1307.0 181.2L1310.0 180.6L1313.0 180.1L1316.0 179.5L1319.0 178.9L1322.0 178.4L1325.0 177.8L1328.0 177.3L1331.0 176.7L1334.0 176.2L1337.0 175.7L1340.0 175.2L1343.0 174.6L1346.0 174.1L1349.0 173.6L1352.0 173.1L1355.0 172.6L1358.0 172.0L1361.0 171.5L1364.0 171.0L1367.0 170.5L1370.0 170.0L1373.0 169.4L1376.0 168.9L1379.0 168.4L1382.0 167.9L1385.0 167.4L1388.0 166.9L1391.0 166.4L1394.0 165.9L1397.0 165.4L1400.0 164.9L1403.0 164.4L1406.0 163.9L1409.0 163.4L1412.0 162.9L1415.0 162.4L1418.0 161.9L1421.0 161.4L1424.0 160.9L1427.0 160.4L1430.0 159.9L1433.0 159.6L1436.0 159.6L1439.0 159.6L1442.0 159.6L1445.0 159.6L1448.0 159.6L1451.0 159.6L1454.0 159.6L1457.0 159.6L1460.0 159.6L1463.0 159.6L1466.0 159.6L1469.0 159.6L1472.0 159.6L1475.0 159.6L1478.0 159.6L1481.0 159.6L1484.0 159.6L1487.0 159.6L1490.0 159.6L1493.0 159.6L1496.0 159.6L1499.0 159.6L1502.0 159.6L1505.0 159.6L1508.0 159.6L1511.0 159.6L1514.0 159.6L1517.0 159.6L1520.0 159.6L1523.0 159.6L1526.0 159.6L1529.0 159.6L1532.0 159.6L1535.0 159.6L1538.0 159.6L1541.0 159.6L1544.0 159.6L1547.0 159.6L1550.0 159.6L1553.0 159.6L1556.0 159.6L1559.0 159.6L1562.0 159.6L1565.0 159.6L1568.0 159.6L1571.0 159.6L1574.0 159.6L1577.0 159.6L1580.0 159.6L1583.0 159.6L1586.0 159.6L1589.0 159.6L1592.0 159.6L1593.0 159.6L1598.0 159.6L1598.0 95.0L150.0 95.0L150.0 261.5Z" fill="#ffffff"/>
<path d="M155.0 261.5L158.0 261.1L161.0 260.8L164.0 260.5L167.0 260.2L170.0 260.0L173.0 259.9L176.0 259.7L179.0 259.6L182.0 259.6L185.0 259.5L188.0 259.5L191.0 259.5L194.0 259.6L197.0 259.7L200.0 260.0L203.0 260.2L206.0 260.6L209.0 260.9L212.0 261.3L215.0 261.7L218.0 262.2L221.0 262.6L224.0 263.0L227.0 263.4L230.0 263.9L233.0 264.4L236.0 264.9L239.0 265.4L242.0 266.0L245.0 266.6L248.0 267.2L251.0 267.8L254.0 268.5L254.0 268.5L257.0 268.8L260.0 269.0L263.0 269.3L266.0 269.6L269.0 269.8L272.0 270.1L275.0 270.4L278.0 270.6L281.0 270.9L284.0 271.1L287.0 271.3L290.0 271.6L293.0 271.8L296.0 272.0L299.0 272.2L302.0 272.5L305.0 272.7L308.0 272.9L311.0 273.1L314.0 273.3L317.0 273.5L320.0 273.7L323.0 273.9L326.0 274.1L329.0 274.3L332.0 274.5L335.0 274.7L338.0 274.9L341.0 275.1L344.0 275.2L347.0 275.4L350.0 275.6L353.0 275.7L356.0 275.9L359.0 276.0L362.0 276.1L365.0 276.2L368.0 276.3L371.0 276.3L374.0 276.4L377.0 276.4L380.0 276.5L383.0 276.5L386.0 276.6L389.0 276.6L392.0 276.7L395.0 276.7L398.0 276.8L401.0 276.8L404.0 276.8L407.0 276.9L410.0 276.9L413.0 276.9L416.0 277.0L419.0 277.0L422.0 277.0L425.0 277.0L428.0 277.0L431.0 277.0L434.0 277.0L437.0 277.0L440.0 276.9L443.0 276.9L446.0 276.8L449.0 276.7L452.0 276.7L455.0 276.6L458.0 276.5L461.0 276.4L464.0 276.3L467.0 276.1L470.0 276.0L473.0 275.7L476.0 275.5L479.0 275.2L482.0 274.9L485.0 274.6L488.0 274.2L491.0 273.9L494.0 273.6L497.0 273.3L500.0 273.0L503.0 272.7L506.0 272.5L509.0 272.2L512.0 271.9L515.0 271.7L518.0 271.4L521.0 271.2L524.0 270.9L527.0 270.7L530.0 270.4L533.0 270.1L536.0 269.8L539.0 269.6L542.0 269.3L545.0 269.0L548.0 268.7L551.0 268.3L554.0 268.0L557.0 267.6L560.0 267.3L563.0 266.9L566.0 266.5L569.0 266.1L572.0 265.7L575.0 265.3L578.0 264.9L581.0 264.5L584.0 264.1L587.0 263.7L590.0 263.3L593.0 262.9L596.0 262.5L599.0 262.1L602.0 261.8L605.0 261.4L608.0 261.0L611.0 260.7L614.0 260.3L617.0 260.0L620.0 259.6L623.0 259.2L626.0 258.9L629.0 258.5L632.0 258.2L635.0 257.8L638.0 257.5L641.0 257.2L644.0 256.8L647.0 256.5L650.0 256.1L653.0 255.8L656.0 255.5L659.0 255.1L662.0 254.8L665.0 254.5L665.8 254.4L665.8 254.4L668.8 254.1L671.8 253.8L674.8 253.5L677.8 253.2L680.8 252.9L683.8 252.6L686.8 252.3L689.8 252.0L692.8 251.7L695.8 251.4L698.8 251.1L701.8 250.8L704.8 250.5L707.8 250.2L710.8 249.8L713.8 249.5L716.8 249.1L719.8 248.8L722.8 248.6L725.8 248.4L728.8 248.2L731.8 248.2L734.8 248.2L737.8 248.2L740.8 248.2L743.8 248.2L746.8 248.2L749.8 248.2L752.8 248.2L755.8 248.2L758.8 248.2L761.8 248.2L764.8 248.2L767.8 248.2L770.8 248.2L773.8 248.2L776.8 248.2L779.8 248.2L782.8 248.2L785.8 248.2L788.8 248.2L791.8 248.2L794.8 248.2L797.8 248.2L800.8 248.2L803.8 248.2L806.8 248.2L809.8 248.2L812.8 248.2L815.8 248.2L818.8 248.2L821.8 248.2L824.8 248.2L827.8 248.2L830.8 248.2L833.8 248.2L836.8 248.2L839.8 248.2L842.8 248.2L845.8 248.2L848.8 248.2L851.8 248.2L854.8 248.2L857.8 248.2L860.8 248.2L863.8 248.2L866.8 248.2L869.8 248.2L872.8 248.2L875.8 248.2L878.8 248.2L881.8 248.2L884.8 248.2L887.8 248.2L890.8 248.2L893.8 248.2L896.8 248.2L899.8 248.2L902.8 248.2L905.8 248.2L908.8 248.2L911.8 248.2L914.8 248.2L917.8 248.2L920.8 248.2L923.8 248.2L926.8 248.2L929.8 248.2L932.8 248.2L935.8 248.2L938.8 248.2L941.8 248.2L944.8 248.2L947.8 248.2L950.8 248.2L953.8 248.2L956.8 248.2L959.8 248.3L962.8 248.3L965.8 248.3L968.8 248.3L971.8 248.3L974.8 248.3L977.8 248.3L980.8 248.3L983.8 248.3L986.8 248.3L989.8 248.3L992.8 248.3L995.8 248.3L998.8 248.3L1001.8 248.3L1004.8 248.3L1007.8 248.3L1010.8 248.3L1013.8 248.3L1016.8 248.3L1017.8 248.3L1017.8 248.3L1020.8 247.8L1023.8 247.3L1026.8 246.8L1029.8 246.3L1032.8 245.8L1035.8 245.3L1038.8 244.9L1041.8 244.4L1044.8 243.9L1047.8 243.4L1050.8 242.9L1053.8 242.5L1056.8 242.0L1059.8 241.5L1062.8 241.1L1065.8 240.6L1068.8 240.2L1071.8 239.8L1074.8 239.3L1077.8 238.9L1080.8 238.5L1083.8 238.1L1086.8 237.7L1089.8 237.3L1092.8 236.8L1095.8 236.4L1098.8 235.9L1101.8 235.4L1104.8 234.9L1107.8 234.4L1110.8 233.8L1113.8 233.2L1116.8 232.5L1119.8 231.9L1122.8 231.1L1125.8 230.4L1128.8 229.6L1131.8 228.9L1134.8 228.1L1137.8 227.3L1140.8 226.5L1143.8 225.6L1146.8 224.8L1149.8 224.1L1152.8 223.3L1155.8 222.5L1158.8 221.7L1161.8 220.9L1164.8 220.1L1167.8 219.2L1170.8 218.4L1173.8 217.6L1176.8 216.7L1179.8 215.9L1182.8 215.0L1185.8 214.1L1188.8 213.2L1191.8 212.3L1194.8 211.4L1197.8 210.5L1200.8 209.6L1203.8 208.6L1206.8 207.7L1209.8 206.7L1212.8 205.7L1215.8 204.7L1218.8 203.7L1221.8 202.7L1224.8 201.7L1227.8 200.7L1230.8 199.7L1233.8 198.6L1236.8 197.6L1239.8 196.5L1242.8 195.4L1245.8 194.4L1248.8 193.3L1249.5 193.0L1250.0 194.0L1253.0 193.3L1256.0 192.5L1259.0 191.8L1262.0 191.1L1265.0 190.3L1268.0 189.6L1271.0 188.9L1274.0 188.2L1277.0 187.5L1280.0 186.9L1283.0 186.2L1286.0 185.5L1289.0 184.9L1292.0 184.2L1295.0 183.6L1298.0 183.0L1301.0 182.4L1304.0 181.8L1307.0 181.2L1310.0 180.6L1313.0 180.1L1316.0 179.5L1319.0 178.9L1322.0 178.4L1325.0 177.8L1328.0 177.3L1331.0 176.7L1334.0 176.2L1337.0 175.7L1340.0 175.2L1343.0 174.6L1346.0 174.1L1349.0 173.6L1352.0 173.1L1355.0 172.6L1358.0 172.0L1361.0 171.5L1364.0 171.0L1367.0 170.5L1370.0 170.0L1373.0 169.4L1376.0 168.9L1379.0 168.4L1382.0 167.9L1385.0 167.4L1388.0 166.9L1391.0 166.4L1394.0 165.9L1397.0 165.4L1400.0 164.9L1403.0 164.4L1406.0 163.9L1409.0 163.4L1412.0 162.9L1415.0 162.4L1418.0 161.9L1421.0 161.4L1424.0 160.9L1427.0 160.4L1430.0 159.9L1433.0 159.6L1436.0 159.6L1439.0 159.6L1442.0 159.6L1445.0 159.6L1448.0 159.6L1451.0 159.6L1454.0 159.6L1457.0 159.6L1460.0 159.6L1463.0 159.6L1466.0 159.6L1469.0 159.6L1472.0 159.6L1475.0 159.6L1478.0 159.6L1481.0 159.6L1484.0 159.6L1487.0 159.6L1490.0 159.6L1493.0 159.6L1496.0 159.6L1499.0 159.6L1502.0 159.6L1505.0 159.6L1508.0 159.6L1511.0 159.6L1514.0 159.6L1517.0 159.6L1520.0 159.6L1523.0 159.6L1526.0 159.6L1529.0 159.6L1532.0 159.6L1535.0 159.6L1538.0 159.6L1541.0 159.6L1544.0 159.6L1547.0 159.6L1550.0 159.6L1553.0 159.6L1556.0 159.6L1559.0 159.6L1562.0 159.6L1565.0 159.6L1568.0 159.6L1571.0 159.6L1574.0 159.6L1577.0 159.6L1580.0 159.6L1583.0 159.6L1586.0 159.6L1589.0 159.6L1592.0 159.6L1593.0 159.6" fill="none" stroke="#000" stroke-width="2.2" stroke-linejoin="round"/>
</g>
<polyline points="252.0,269.0 326.0,913.0" fill="none" stroke="#0000ff" stroke-width="2.3"/>
<polyline points="253.3,269.0 327.3,913.0" fill="none" stroke="#000" stroke-width="1.1"/>
<polyline points="665.8,254.4 640.0,534.0 603.0,871.6" fill="none" stroke="#0000ff" stroke-width="2.3"/>
<polyline points="667.1,254.4 641.3,534.0 604.3,871.6" fill="none" stroke="#000" stroke-width="1.1"/>
<polyline points="1017.8,248.3 1072.8,892.8" fill="none" stroke="#0000ff" stroke-width="2.3"/>
<polyline points="1016.5,248.3 1071.5,892.8" fill="none" stroke="#000" stroke-width="1.1"/>
<polyline points="1250.5,193.0 1225.5,747.7 1224.0,776.0 1218.0,781.0 1217.5,888.0" fill="none" stroke="#0000ff" stroke-width="2.3"/>
<polyline points="1249.2,193.0 1224.2,747.7 1222.7,776.0 1216.7,781.0 1216.2,888.0" fill="none" stroke="#000" stroke-width="1.1"/>
<line x1="1017.8" y1="248.3" x2="1022.8" y2="303.8" stroke="#000" stroke-width="2"/>
<line x1="1250.5" y1="193" x2="1248.3" y2="242" stroke="#000" stroke-width="2"/>
<polyline points="254.8,513.9 265.8,460.0 280.8,611.7" fill="none" stroke="#000" stroke-width="1.5" stroke-linejoin="miter"/>
<polyline points="291.8,456.0 307.8,606.7 317.3,553.8" fill="none" stroke="#000" stroke-width="1.5" stroke-linejoin="miter"/>
<polyline points="601.9,583.8 613.9,632.7 626.9,482.9" fill="none" stroke="#000" stroke-width="1.5" stroke-linejoin="miter"/>
<polyline points="648.8,632.7 661.8,481.9 672.8,520.8" fill="none" stroke="#000" stroke-width="1.5" stroke-linejoin="miter"/>
<polyline points="997.9,444.9 1008.9,392.0 1024.8,543.8" fill="none" stroke="#000" stroke-width="1.5" stroke-linejoin="miter"/>
<polyline points="1044.8,391.0 1060.8,542.8 1070.8,488.8" fill="none" stroke="#000" stroke-width="1.5" stroke-linejoin="miter"/>
<polyline points="1199.6,569.7 1212.5,617.7 1216.5,465.9" fill="none" stroke="#000" stroke-width="1.5" stroke-linejoin="miter"/>
<polyline points="1250.5,618.6 1254.5,467.9 1267.5,505.8" fill="none" stroke="#000" stroke-width="1.5" stroke-linejoin="miter"/>
<line x1="155" y1="161.8" x2="155" y2="1153" stroke="#000" stroke-width="2.6"/>
<line x1="1592.8" y1="128.4" x2="1592.8" y2="1153" stroke="#000" stroke-width="2.6"/>
<line x1="153.7" y1="1151.6" x2="1594.1" y2="1151.6" stroke="#000" stroke-width="3"/>
<rect x="141.8" y="189.6" width="12.6" height="6" rx="1.2" fill="#ff0000"/>
<rect x="141.8" y="299.1" width="12.6" height="6" rx="1.2" fill="#ff0000"/>
<rect x="141.8" y="394.9" width="12.6" height="6" rx="1.2" fill="#ff0000"/>
<rect x="141.8" y="497.2" width="12.6" height="6" rx="1.2" fill="#ff0000"/>
<rect x="141.8" y="602.3" width="12.6" height="6" rx="1.2" fill="#ff0000"/>
<rect x="141.8" y="702.6" width="12.6" height="6" rx="1.2" fill="#ff0000"/>
<rect x="141.8" y="808.2" width="12.6" height="6" rx="1.2" fill="#ff0000"/>
<rect x="141.8" y="908.1" width="12.6" height="6" rx="1.2" fill="#ff0000"/>
<rect x="141.8" y="1116.4" width="12.6" height="6" rx="1.2" fill="#ff0000"/>
<rect x="148" y="1013.4" width="12.6" height="6" rx="1.2" fill="#ff0000"/>
<rect x="217.3" y="1143.6" width="6.2" height="11.2" fill="#ff0000"/>
<rect x="492.4" y="1150" width="6.4" height="11.8" fill="#ff0000"/>
<rect x="765.1" y="1150" width="6.4" height="11.8" fill="#ff0000"/>
<rect x="1040.1" y="1150" width="6.4" height="11.8" fill="#ff0000"/>
<rect x="1314.2" y="1150" width="6.4" height="11.8" fill="#ff0000"/>
<rect x="1588.2" y="1150" width="6.4" height="11.8" fill="#ff0000"/>
<rect x="218" y="260.7" width="11.6" height="5.8" fill="#ff0000"/>
<rect x="457.4" y="274" width="11.5" height="6.0" fill="#ff0000"/>
<rect x="730.5" y="246.7" width="12.2" height="6.3" fill="#ff0000"/>
<rect x="902.1" y="241.5" width="12.2" height="5.9" fill="#ff0000"/>
<rect x="1293" y="181.4" width="11.5" height="6.0" fill="#ff0000"/>
<rect x="1450.5" y="154" width="11.2" height="5.8" fill="#ff0000"/>
<rect x="218.5" y="288.8" width="11.0" height="5.4" fill="#0a14ff"/>
<rect x="218.5" y="356.1" width="11.0" height="5.4" fill="#0a14ff"/>
<rect x="218.5" y="418.0" width="11.0" height="5.4" fill="#0a14ff"/>
<rect x="218.5" y="542.1" width="11.0" height="5.4" fill="#0a14ff"/>
<rect x="218.5" y="655.3" width="11.0" height="5.4" fill="#0a14ff"/>
<rect x="218.5" y="788.1" width="11.0" height="5.4" fill="#0a14ff"/>
<rect x="218.5" y="880.1" width="11.0" height="5.4" fill="#0a14ff"/>
<rect x="457.5" y="297.3" width="11.0" height="5.4" fill="#0a14ff"/>
<rect x="457.5" y="376.1" width="11.0" height="5.4" fill="#0a14ff"/>
<rect x="457.5" y="430.0" width="11.0" height="5.4" fill="#0a14ff"/>
<rect x="457.5" y="565.1" width="11.0" height="5.4" fill="#0a14ff"/>
<rect x="457.5" y="645.3" width="11.0" height="5.4" fill="#0a14ff"/>
<rect x="457.5" y="788.1" width="11.0" height="5.4" fill="#0a14ff"/>
<rect x="457.5" y="866.0" width="11.0" height="5.4" fill="#0a14ff"/>
<rect x="731.7" y="274.3" width="11.0" height="5.4" fill="#0a14ff"/>
<rect x="731.7" y="339.1" width="11.0" height="5.4" fill="#0a14ff"/>
<rect x="731.7" y="411.0" width="11.0" height="5.4" fill="#0a14ff"/>
<rect x="731.7" y="548.1" width="11.0" height="5.4" fill="#0a14ff"/>
<rect x="731.7" y="609.0" width="11.0" height="5.4" fill="#0a14ff"/>
<rect x="731.7" y="818.0" width="11.0" height="5.4" fill="#0a14ff"/>
<rect x="1293.9" y="207.3" width="11.0" height="5.4" fill="#0a14ff"/>
<rect x="1293.9" y="321.0" width="11.0" height="5.4" fill="#0a14ff"/>
<rect x="1293.9" y="363.9" width="11.0" height="5.4" fill="#0a14ff"/>
<rect x="1292.9" y="466.2" width="11.0" height="5.4" fill="#0a14ff"/>
<rect x="1300" y="713.2" width="11.0" height="5.4" fill="#0a14ff"/>
<rect x="1300" y="834.0" width="11.0" height="5.4" fill="#0a14ff"/>
<text transform="translate(184.90,289.50) scale(1.0575,1)" font-size="27.40" font-weight="normal" fill="#000" stroke="#000" stroke-width="0.95" stroke-linejoin="round">96</text>
<text transform="translate(185.03,353.30) scale(1.0630,1)" font-size="27.40" font-weight="normal" fill="#000" stroke="#000" stroke-width="0.95" stroke-linejoin="round">56</text>
<text transform="translate(200.54,411.20) scale(1.0250,1)" font-size="27.40" font-weight="normal" fill="#000" stroke="#000" stroke-width="0.95" stroke-linejoin="round">8</text>
<text transform="translate(191.71,514.50) scale(1.0841,1)" font-size="27.40" font-weight="normal" fill="#000" stroke="#000" stroke-width="0.95" stroke-linejoin="round">77</text>
<text transform="translate(191.73,651.20) scale(1.0734,1)" font-size="27.40" font-weight="normal" fill="#000" stroke="#000" stroke-width="0.95" stroke-linejoin="round">23</text>
<text transform="translate(191.84,784.30) scale(1.1038,1)" font-size="27.40" font-weight="normal" fill="#000" stroke="#000" stroke-width="0.95" stroke-linejoin="round">95</text>
<text transform="translate(184.58,883.00) scale(1.1126,1)" font-size="27.40" font-weight="normal" fill="#000" stroke="#000" stroke-width="0.95" stroke-linejoin="round">35</text>
<text transform="translate(206.55,952.50) scale(1.0524,1)" font-size="27.40" font-weight="normal" fill="#000" stroke="#000" stroke-width="0.95" stroke-linejoin="round">53</text>
<text transform="translate(425.67,303.50) scale(1.0341,1)" font-size="27.40" font-weight="normal" fill="#000" stroke="#000" stroke-width="0.95" stroke-linejoin="round">57</text>
<text transform="translate(425.67,353.30) scale(1.0290,1)" font-size="27.40" font-weight="normal" fill="#000" stroke="#000" stroke-width="0.95" stroke-linejoin="round">39</text>
<text transform="translate(436.55,418.20) scale(1.0125,1)" font-size="27.40" font-weight="normal" fill="#000" stroke="#000" stroke-width="0.95" stroke-linejoin="round">9</text>
<text transform="translate(425.68,524.30) scale(1.0240,1)" font-size="27.40" font-weight="normal" fill="#000" stroke="#000" stroke-width="0.95" stroke-linejoin="round">55</text>
<text transform="translate(431.65,628.20) scale(1.0493,1)" font-size="27.40" font-weight="normal" fill="#000" stroke="#000" stroke-width="0.95" stroke-linejoin="round">34</text>
<text transform="translate(425.52,770.30) scale(1.0392,1)" font-size="27.40" font-weight="normal" fill="#000" stroke="#000" stroke-width="0.95" stroke-linejoin="round">82</text>
<text transform="translate(440.56,853.30) scale(1.0017,1)" font-size="27.40" font-weight="normal" fill="#000" stroke="#000" stroke-width="0.95" stroke-linejoin="round">8</text>
<text transform="translate(442.68,952.20) scale(1.0240,1)" font-size="27.40" font-weight="normal" fill="#000" stroke="#000" stroke-width="0.95" stroke-linejoin="round">36</text>
<text transform="translate(698.73,271.50) scale(1.0630,1)" font-size="27.40" font-weight="normal" fill="#000" stroke="#000" stroke-width="0.95" stroke-linejoin="round">53</text>
<text transform="translate(699.33,335.30) scale(1.0329,1)" font-size="27.40" font-weight="normal" fill="#000" stroke="#000" stroke-width="0.95" stroke-linejoin="round">44</text>
<text transform="translate(714.66,403.20) scale(1.0095,1)" font-size="27.40" font-weight="normal" fill="#000" stroke="#000" stroke-width="0.95" stroke-linejoin="round">8</text>
<text transform="translate(698.44,527.30) scale(1.0682,1)" font-size="27.40" font-weight="normal" fill="#000" stroke="#000" stroke-width="0.95" stroke-linejoin="round">60</text>
<text transform="translate(705.85,596.20) scale(0.9614,1)" font-size="27.40" font-weight="normal" fill="#000" stroke="#000" stroke-width="0.95" stroke-linejoin="round">31</text>
<text transform="translate(704.58,746.30) scale(1.0682,1)" font-size="27.40" font-weight="normal" fill="#000" stroke="#000" stroke-width="0.95" stroke-linejoin="round">93</text>
<text transform="translate(714.47,806.20) scale(1.0428,1)" font-size="27.40" font-weight="normal" fill="#000" stroke="#000" stroke-width="0.95" stroke-linejoin="round">7</text>
<text transform="translate(711.56,873.10) scale(1.1371,1)" font-size="27.40" font-weight="normal" fill="#000" stroke="#000" stroke-width="0.95" stroke-linejoin="round">16</text>
<text transform="translate(1301.93,204.00) scale(1.1048,1)" font-size="27.40" font-weight="normal" fill="#000" stroke="#000" stroke-width="0.95" stroke-linejoin="round">112</text>
<text transform="translate(1308.50,265.00) scale(1.0913,1)" font-size="27.40" font-weight="normal" fill="#000" stroke="#000" stroke-width="0.95" stroke-linejoin="round">52</text>
<text transform="translate(1301.94,353.20) scale(1.0543,1)" font-size="27.40" font-weight="normal" fill="#000" stroke="#000" stroke-width="0.95" stroke-linejoin="round">30</text>
<text transform="translate(1303.09,460.40) scale(0.9222,1)" font-size="27.40" font-weight="normal" fill="#000" stroke="#000" stroke-width="0.95" stroke-linejoin="round">51</text>
<text transform="translate(1303.79,545.30) scale(0.9545,1)" font-size="27.40" font-weight="normal" fill="#000" stroke="#000" stroke-width="0.95" stroke-linejoin="round">7</text>
<text transform="translate(1301.63,705.40) scale(1.0698,1)" font-size="27.40" font-weight="normal" fill="#000" stroke="#000" stroke-width="0.95" stroke-linejoin="round">65</text>
<text transform="translate(1317.84,818.20) scale(0.9418,1)" font-size="27.40" font-weight="normal" fill="#000" stroke="#000" stroke-width="0.95" stroke-linejoin="round">9</text>
<text transform="translate(1301.54,915.90) scale(1.0555,1)" font-size="27.40" font-weight="normal" fill="#000" stroke="#000" stroke-width="0.95" stroke-linejoin="round">37</text>
<text transform="translate(167.05,221.60) scale(1.0256,1)" font-size="29.40" font-weight="normal" fill="#861418" stroke="#861418" stroke-width="1.3">VES_17</text>
<text transform="translate(407.05,256.40) scale(1.0274,1)" font-size="29.40" font-weight="normal" fill="#861418" stroke="#861418" stroke-width="1.3">VES_15</text>
<text transform="translate(644.95,222.30) scale(1.0209,1)" font-size="29.40" font-weight="normal" fill="#861418" stroke="#861418" stroke-width="1.3">VES_13</text>
<text transform="translate(804.27,218.10) scale(0.9960,1)" font-size="35.60" font-weight="bold" fill="#861418" >Jica-1</text>
<text transform="translate(929.25,235.60) scale(1.0193,1)" font-size="29.40" font-weight="normal" fill="#861418" stroke="#861418" stroke-width="1.3">VES_9</text>
<text transform="translate(1237.25,153.30) scale(1.0254,1)" font-size="29.40" font-weight="normal" fill="#861418" stroke="#861418" stroke-width="1.3">VES_7</text>
<text transform="translate(1395.45,132.60) scale(1.0393,1)" font-size="28.40" font-weight="normal" fill="#861418" stroke="#861418" stroke-width="1.3">VES 1</text>
<text transform="translate(1437.35,101.00) scale(1.0327,1)" font-size="35.60" font-weight="bold" fill="#861418" >Jica-2</text>
<text transform="translate(441.20,67.00) scale(1.0140,1)" font-size="45.00" font-weight="bold" fill="#0000ff" >Wells Log Correlation Along Profile C-C`</text>
<rect x="121" y="37.6" width="91.8" height="52.7" fill="#ccffff"/>
<text transform="translate(135.14,72.90) scale(1.0183,1)" font-size="35.60" font-weight="bold" fill="#000" >NW</text>
<rect x="1569.2" y="36.9" width="92.9" height="54.1" fill="#ccffff"/>
<text transform="translate(1589.43,73.60) scale(1.0343,1)" font-size="35.80" font-weight="normal" fill="#000" >SE</text>
<text transform="translate(36.22,149.80) scale(1.0545,1)" font-size="44.80" font-weight="normal" fill="#ff1010" >Elev(M)</text>
<text transform="translate(22.74,617.40) scale(1.0260,1)" font-size="44.20" font-weight="bold" fill="#ff0000" >S.L</text>
<text transform="translate(46.69,205.60) scale(1.0416,1)" font-size="44.20" font-weight="bold" fill="#0000ff" >600</text>
<text transform="translate(46.20,308.00) scale(1.0483,1)" font-size="44.20" font-weight="bold" fill="#0000ff" >450</text>
<text transform="translate(43.46,411.40) scale(1.0351,1)" font-size="44.20" font-weight="bold" fill="#0000ff" >300</text>
<text transform="translate(53.86,514.00) scale(1.0336,1)" font-size="44.20" font-weight="bold" fill="#0000ff" >150</text>
<text transform="translate(106.31,623.20) scale(1.0669,1)" font-size="44.20" font-weight="bold" fill="#0000ff" >0</text>
<text transform="translate(39.78,719.60) scale(1.0299,1)" font-size="44.20" font-weight="bold" fill="#0000ff" >-150</text>
<text transform="translate(33.20,822.40) scale(1.0193,1)" font-size="44.20" font-weight="bold" fill="#0000ff" >-300</text>
<text transform="translate(33.20,930.60) scale(1.0193,1)" font-size="44.20" font-weight="bold" fill="#0000ff" >-450</text>
<text transform="translate(33.20,1027.40) scale(1.0193,1)" font-size="44.20" font-weight="bold" fill="#0000ff" >-600</text>
<text transform="translate(33.20,1136.40) scale(1.0193,1)" font-size="44.20" font-weight="bold" fill="#0000ff" >-750</text>
<text transform="translate(209.11,1202.20) scale(1.0717,1)" font-size="44.20" font-weight="bold" fill="#0000ff" >0</text>
<text transform="translate(469.80,1202.20) scale(1.0339,1)" font-size="44.20" font-weight="bold" fill="#0000ff" >20</text>
<text transform="translate(744.00,1202.20) scale(1.0572,1)" font-size="44.20" font-weight="bold" fill="#0000ff" >40</text>
<text transform="translate(1017.57,1202.20) scale(1.0514,1)" font-size="44.20" font-weight="bold" fill="#0000ff" >60</text>
<text transform="translate(1292.01,1202.20) scale(1.0464,1)" font-size="44.20" font-weight="bold" fill="#0000ff" >80</text>
<text transform="translate(1553.97,1202.20) scale(1.0307,1)" font-size="44.20" font-weight="bold" fill="#0000ff" >100</text>
<rect x="1696" y="154.4" width="68" height="69" fill="url(#surf)" stroke="#000" stroke-width="2.2"/>
<line x1="1695" y1="152.8" x2="1765" y2="152.8" stroke="#bdbdbd" stroke-width="1.6"/>
<rect x="1696" y="275.4" width="68" height="69" fill="url(#clay)" stroke="#000" stroke-width="2.2"/>
<line x1="1695" y1="273.79999999999995" x2="1765" y2="273.79999999999995" stroke="#bdbdbd" stroke-width="1.6"/>
<rect x="1696" y="378.0" width="68" height="69" fill="url(#inter)" stroke="#000" stroke-width="2.2"/>
<line x1="1695" y1="376.4" x2="1765" y2="376.4" stroke="#bdbdbd" stroke-width="1.6"/>
<rect x="1696" y="515.4" width="68" height="69" fill="url(#lime)" stroke="#000" stroke-width="2.2"/>
<line x1="1695" y1="513.8" x2="1765" y2="513.8" stroke="#bdbdbd" stroke-width="1.6"/>
<rect x="1696" y="652.4" width="68" height="69" fill="url(#dolo)" stroke="#000" stroke-width="2.2"/>
<line x1="1695" y1="650.8" x2="1765" y2="650.8" stroke="#bdbdbd" stroke-width="1.6"/>
<rect x="1696" y="789.4" width="68" height="69" fill="url(#nub)" stroke="#000" stroke-width="2.2"/>
<line x1="1695" y1="787.8" x2="1765" y2="787.8" stroke="#bdbdbd" stroke-width="1.6"/>
<line x1="1697" y1="809.2" x2="1763" y2="809.2" stroke="#4a3a00" stroke-width="2.4"/>
<line x1="1697" y1="836.6" x2="1763" y2="836.6" stroke="#4a3a00" stroke-width="2.4"/>
<text transform="translate(1829.48,159.70) scale(0.9970,1)" font-size="27.50" font-weight="bold" fill="#ff0a0a" >Surface</text>
<text transform="translate(1845.77,192.20) scale(1.0221,1)" font-size="27.50" font-weight="bold" fill="#ff0a0a" >Layer</text>
<text transform="translate(1801.22,226.10) scale(1.0064,1)" font-size="27.50" font-weight="bold" fill="#ff0a0a" >(S.St,Gravel</text>
<text transform="translate(1821.48,257.00) scale(0.9985,1)" font-size="27.50" font-weight="bold" fill="#ff0a0a" >and Clay)</text>
<text transform="translate(1823.34,321.20) scale(0.9711,1)" font-size="37.50" font-weight="bold" fill="#ff0a0a" >Clay</text>
<text transform="translate(1784.73,392.10) scale(0.9975,1)" font-size="36.60" font-weight="bold" fill="#ff0a0a" >Limestone</text>
<text transform="translate(1772.23,435.80) scale(1.0027,1)" font-size="36.60" font-weight="bold" fill="#ff0a0a" >intercalated</text>
<text transform="translate(1804.58,479.00) scale(0.9855,1)" font-size="36.60" font-weight="bold" fill="#ff0a0a" >with clay</text>
<text transform="translate(1781.03,559.50) scale(0.9975,1)" font-size="36.60" font-weight="bold" fill="#ff0a0a" >Limestone</text>
<text transform="translate(1792.11,673.30) scale(1.0053,1)" font-size="36.60" font-weight="bold" fill="#ff0a0a" >Dolomitic</text>
<text transform="translate(1784.73,717.10) scale(0.9975,1)" font-size="36.60" font-weight="bold" fill="#ff0a0a" >Limestone</text>
<text transform="translate(1817.42,781.30) scale(1.0017,1)" font-size="36.60" font-weight="bold" fill="#ff0a0a" >Nubian</text>
<text transform="translate(1786.91,824.00) scale(0.9943,1)" font-size="36.60" font-weight="bold" fill="#ff0a0a" >Sandstone</text>
<text transform="translate(1791.18,869.00) scale(0.9895,1)" font-size="36.60" font-weight="bold" fill="#ff0a0a" >with Shale</text>
<text transform="translate(1815.24,963.00) scale(0.9938,1)" font-size="36.60" font-weight="bold" fill="#0000ff" >Faults</text>
<line x1="1763.8" y1="919.1" x2="1754.8" y2="942.6" stroke="#0000ff" stroke-width="2.6"/>
<line x1="1749.7" y1="954.9" x2="1740.9" y2="976.8" stroke="#0000ff" stroke-width="2.6"/>
<line x1="1736.8" y1="989.7" x2="1730.1" y2="1006" stroke="#0000ff" stroke-width="2.6"/>
<rect x="5.3" y="5.1" width="1997.4" height="1221" fill="none" stroke="#1c457b" stroke-width="4.2" stroke-linejoin="round"/>
</svg></body></html>
